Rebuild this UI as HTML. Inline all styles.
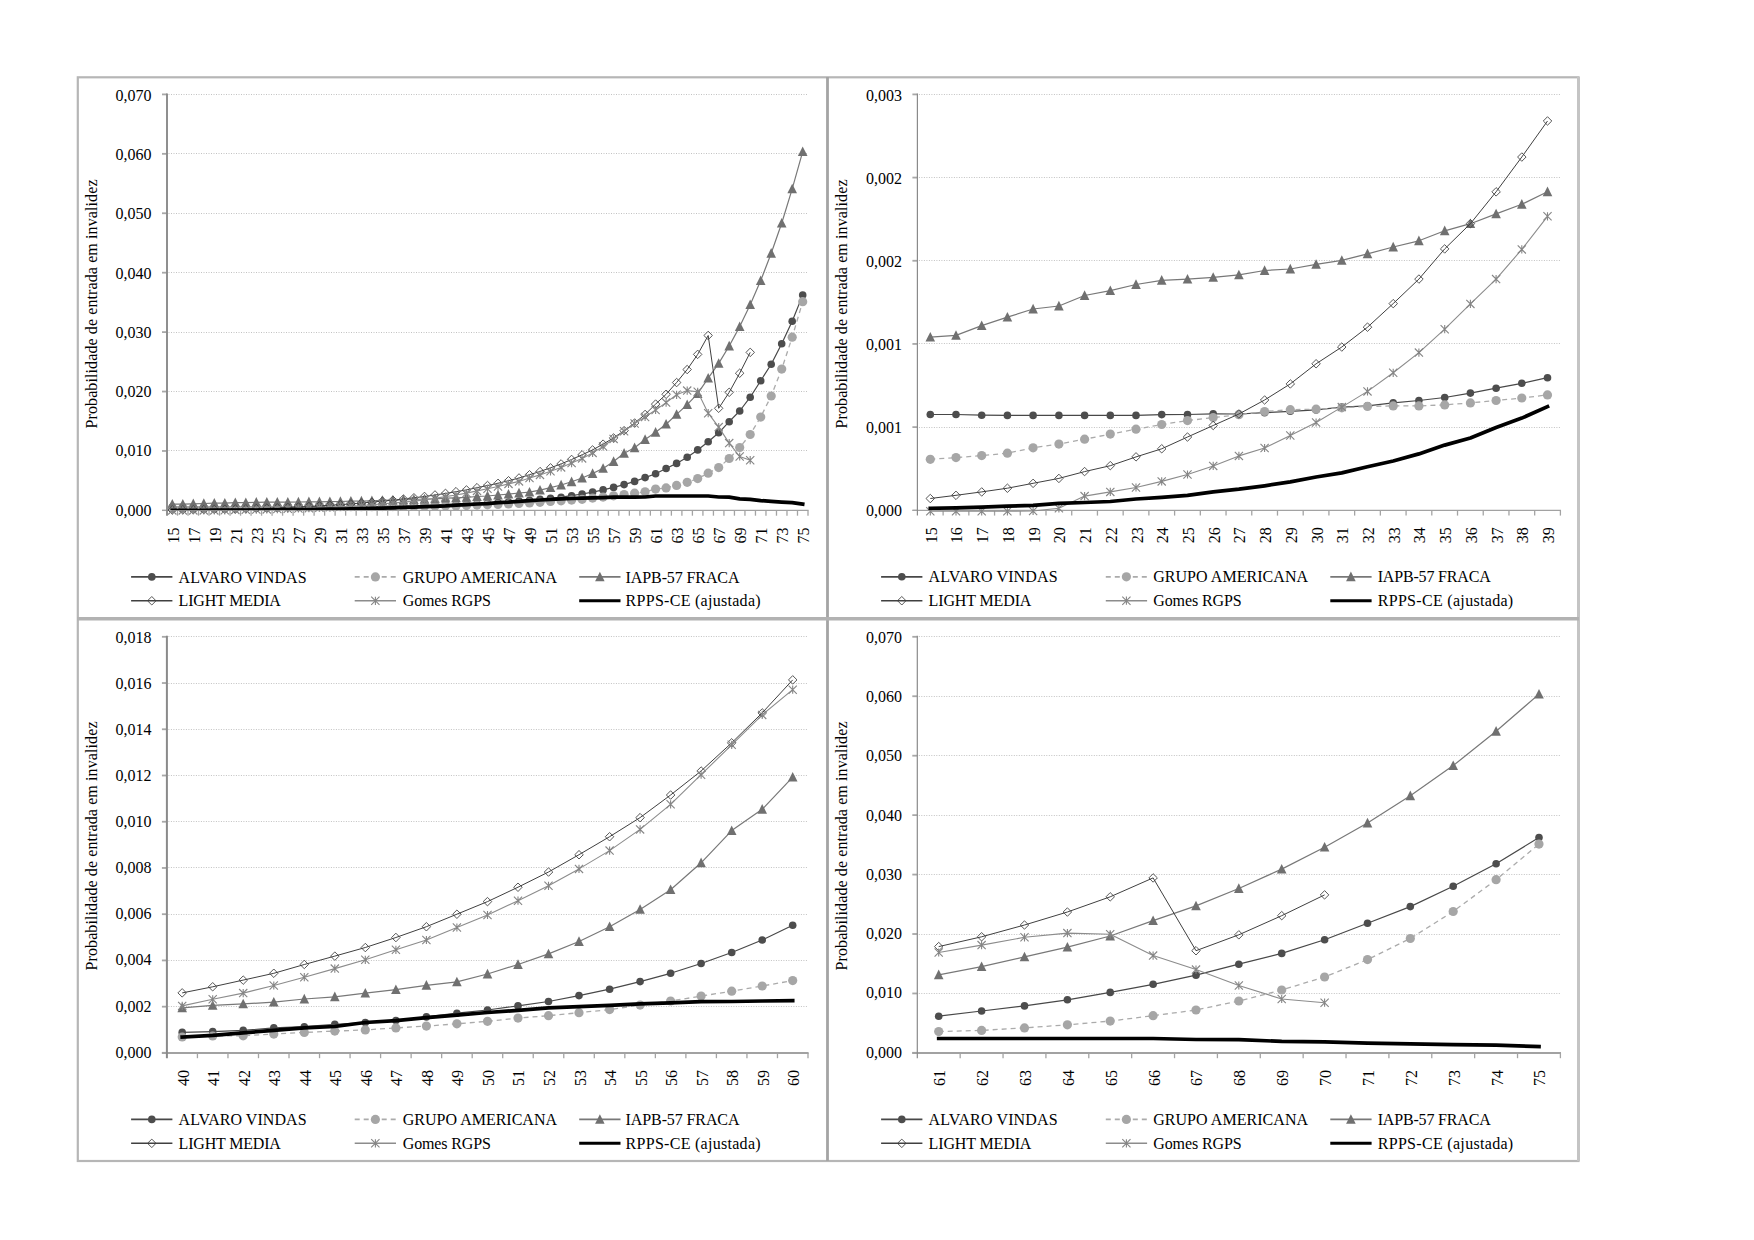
<!DOCTYPE html>
<html><head><meta charset="utf-8"><title>Chart</title>
<style>html,body{margin:0;padding:0;background:#fff}body{width:1754px;height:1240px;position:relative;overflow:hidden}</style></head>
<body>
<svg width="1754" height="1240" viewBox="0 0 1754 1240" style="position:absolute;left:0;top:0">
<rect width="1754" height="1240" fill="#fff"/>
<g fill="none">
<rect x="77.8" y="77.3" width="1500.7" height="1083.7" stroke="#b6b6b6" stroke-width="2.2"/>
<line x1="1578.5" y1="77" x2="1578.5" y2="1161" stroke="#c4c4c4" stroke-width="3"/>
<line x1="827.5" y1="77" x2="827.5" y2="1161" stroke="#a4a4a4" stroke-width="2.8"/>
<line x1="77" y1="618.8" x2="1579" y2="618.8" stroke="#b2b2b2" stroke-width="3.6"/>
</g>
<line x1="168.5" y1="450.5" x2="808.0" y2="450.5" stroke="#c2c2c2" stroke-width="1" stroke-dasharray="1,1.5"/>
<line x1="168.5" y1="391.5" x2="808.0" y2="391.5" stroke="#c2c2c2" stroke-width="1" stroke-dasharray="1,1.5"/>
<line x1="168.5" y1="332.5" x2="808.0" y2="332.5" stroke="#c2c2c2" stroke-width="1" stroke-dasharray="1,1.5"/>
<line x1="168.5" y1="272.5" x2="808.0" y2="272.5" stroke="#c2c2c2" stroke-width="1" stroke-dasharray="1,1.5"/>
<line x1="168.5" y1="213.5" x2="808.0" y2="213.5" stroke="#c2c2c2" stroke-width="1" stroke-dasharray="1,1.5"/>
<line x1="168.5" y1="153.5" x2="808.0" y2="153.5" stroke="#c2c2c2" stroke-width="1" stroke-dasharray="1,1.5"/>
<line x1="168.5" y1="94.5" x2="808.0" y2="94.5" stroke="#c2c2c2" stroke-width="1" stroke-dasharray="1,1.5"/>
<line x1="162.0" y1="510.40" x2="167.0" y2="510.40" stroke="#a8a8a8" stroke-width="1.3"/>
<text x="151.6" y="515.70" text-anchor="end" style="font-family:'Liberation Serif',serif;font-size:16px">0,000</text>
<line x1="162.0" y1="450.97" x2="167.0" y2="450.97" stroke="#a8a8a8" stroke-width="1.8"/>
<text x="151.6" y="456.40" text-anchor="end" style="font-family:'Liberation Serif',serif;font-size:16px">0,010</text>
<line x1="162.0" y1="391.54" x2="167.0" y2="391.54" stroke="#a8a8a8" stroke-width="1.8"/>
<text x="151.6" y="397.10" text-anchor="end" style="font-family:'Liberation Serif',serif;font-size:16px">0,020</text>
<line x1="162.0" y1="332.11" x2="167.0" y2="332.11" stroke="#a8a8a8" stroke-width="1.8"/>
<text x="151.6" y="337.80" text-anchor="end" style="font-family:'Liberation Serif',serif;font-size:16px">0,030</text>
<line x1="162.0" y1="272.69" x2="167.0" y2="272.69" stroke="#a8a8a8" stroke-width="1.8"/>
<text x="151.6" y="278.50" text-anchor="end" style="font-family:'Liberation Serif',serif;font-size:16px">0,040</text>
<line x1="162.0" y1="213.26" x2="167.0" y2="213.26" stroke="#a8a8a8" stroke-width="1.8"/>
<text x="151.6" y="219.20" text-anchor="end" style="font-family:'Liberation Serif',serif;font-size:16px">0,050</text>
<line x1="162.0" y1="153.83" x2="167.0" y2="153.83" stroke="#a8a8a8" stroke-width="1.8"/>
<text x="151.6" y="159.90" text-anchor="end" style="font-family:'Liberation Serif',serif;font-size:16px">0,060</text>
<line x1="162.0" y1="94.40" x2="167.0" y2="94.40" stroke="#a8a8a8" stroke-width="1.8"/>
<text x="151.6" y="100.60" text-anchor="end" style="font-family:'Liberation Serif',serif;font-size:16px">0,070</text>
<line x1="177.51" y1="510.4" x2="177.51" y2="515.6999999999999" stroke="#a4a4a4" stroke-width="1.3"/>
<line x1="188.02" y1="510.4" x2="188.02" y2="515.6999999999999" stroke="#a4a4a4" stroke-width="1.3"/>
<line x1="198.52" y1="510.4" x2="198.52" y2="515.6999999999999" stroke="#a4a4a4" stroke-width="1.3"/>
<line x1="209.03" y1="510.4" x2="209.03" y2="515.6999999999999" stroke="#a4a4a4" stroke-width="1.3"/>
<line x1="219.54" y1="510.4" x2="219.54" y2="515.6999999999999" stroke="#a4a4a4" stroke-width="1.3"/>
<line x1="230.05" y1="510.4" x2="230.05" y2="515.6999999999999" stroke="#a4a4a4" stroke-width="1.3"/>
<line x1="240.56" y1="510.4" x2="240.56" y2="515.6999999999999" stroke="#a4a4a4" stroke-width="1.3"/>
<line x1="251.07" y1="510.4" x2="251.07" y2="515.6999999999999" stroke="#a4a4a4" stroke-width="1.3"/>
<line x1="261.57" y1="510.4" x2="261.57" y2="515.6999999999999" stroke="#a4a4a4" stroke-width="1.3"/>
<line x1="272.08" y1="510.4" x2="272.08" y2="515.6999999999999" stroke="#a4a4a4" stroke-width="1.3"/>
<line x1="282.59" y1="510.4" x2="282.59" y2="515.6999999999999" stroke="#a4a4a4" stroke-width="1.3"/>
<line x1="293.10" y1="510.4" x2="293.10" y2="515.6999999999999" stroke="#a4a4a4" stroke-width="1.3"/>
<line x1="303.61" y1="510.4" x2="303.61" y2="515.6999999999999" stroke="#a4a4a4" stroke-width="1.3"/>
<line x1="314.11" y1="510.4" x2="314.11" y2="515.6999999999999" stroke="#a4a4a4" stroke-width="1.3"/>
<line x1="324.62" y1="510.4" x2="324.62" y2="515.6999999999999" stroke="#a4a4a4" stroke-width="1.3"/>
<line x1="335.13" y1="510.4" x2="335.13" y2="515.6999999999999" stroke="#a4a4a4" stroke-width="1.3"/>
<line x1="345.64" y1="510.4" x2="345.64" y2="515.6999999999999" stroke="#a4a4a4" stroke-width="1.3"/>
<line x1="356.15" y1="510.4" x2="356.15" y2="515.6999999999999" stroke="#a4a4a4" stroke-width="1.3"/>
<line x1="366.66" y1="510.4" x2="366.66" y2="515.6999999999999" stroke="#a4a4a4" stroke-width="1.3"/>
<line x1="377.16" y1="510.4" x2="377.16" y2="515.6999999999999" stroke="#a4a4a4" stroke-width="1.3"/>
<line x1="387.67" y1="510.4" x2="387.67" y2="515.6999999999999" stroke="#a4a4a4" stroke-width="1.3"/>
<line x1="398.18" y1="510.4" x2="398.18" y2="515.6999999999999" stroke="#a4a4a4" stroke-width="1.3"/>
<line x1="408.69" y1="510.4" x2="408.69" y2="515.6999999999999" stroke="#a4a4a4" stroke-width="1.3"/>
<line x1="419.20" y1="510.4" x2="419.20" y2="515.6999999999999" stroke="#a4a4a4" stroke-width="1.3"/>
<line x1="429.70" y1="510.4" x2="429.70" y2="515.6999999999999" stroke="#a4a4a4" stroke-width="1.3"/>
<line x1="440.21" y1="510.4" x2="440.21" y2="515.6999999999999" stroke="#a4a4a4" stroke-width="1.3"/>
<line x1="450.72" y1="510.4" x2="450.72" y2="515.6999999999999" stroke="#a4a4a4" stroke-width="1.3"/>
<line x1="461.23" y1="510.4" x2="461.23" y2="515.6999999999999" stroke="#a4a4a4" stroke-width="1.3"/>
<line x1="471.74" y1="510.4" x2="471.74" y2="515.6999999999999" stroke="#a4a4a4" stroke-width="1.3"/>
<line x1="482.25" y1="510.4" x2="482.25" y2="515.6999999999999" stroke="#a4a4a4" stroke-width="1.3"/>
<line x1="492.75" y1="510.4" x2="492.75" y2="515.6999999999999" stroke="#a4a4a4" stroke-width="1.3"/>
<line x1="503.26" y1="510.4" x2="503.26" y2="515.6999999999999" stroke="#a4a4a4" stroke-width="1.3"/>
<line x1="513.77" y1="510.4" x2="513.77" y2="515.6999999999999" stroke="#a4a4a4" stroke-width="1.3"/>
<line x1="524.28" y1="510.4" x2="524.28" y2="515.6999999999999" stroke="#a4a4a4" stroke-width="1.3"/>
<line x1="534.79" y1="510.4" x2="534.79" y2="515.6999999999999" stroke="#a4a4a4" stroke-width="1.3"/>
<line x1="545.30" y1="510.4" x2="545.30" y2="515.6999999999999" stroke="#a4a4a4" stroke-width="1.3"/>
<line x1="555.80" y1="510.4" x2="555.80" y2="515.6999999999999" stroke="#a4a4a4" stroke-width="1.3"/>
<line x1="566.31" y1="510.4" x2="566.31" y2="515.6999999999999" stroke="#a4a4a4" stroke-width="1.3"/>
<line x1="576.82" y1="510.4" x2="576.82" y2="515.6999999999999" stroke="#a4a4a4" stroke-width="1.3"/>
<line x1="587.33" y1="510.4" x2="587.33" y2="515.6999999999999" stroke="#a4a4a4" stroke-width="1.3"/>
<line x1="597.84" y1="510.4" x2="597.84" y2="515.6999999999999" stroke="#a4a4a4" stroke-width="1.3"/>
<line x1="608.34" y1="510.4" x2="608.34" y2="515.6999999999999" stroke="#a4a4a4" stroke-width="1.3"/>
<line x1="618.85" y1="510.4" x2="618.85" y2="515.6999999999999" stroke="#a4a4a4" stroke-width="1.3"/>
<line x1="629.36" y1="510.4" x2="629.36" y2="515.6999999999999" stroke="#a4a4a4" stroke-width="1.3"/>
<line x1="639.87" y1="510.4" x2="639.87" y2="515.6999999999999" stroke="#a4a4a4" stroke-width="1.3"/>
<line x1="650.38" y1="510.4" x2="650.38" y2="515.6999999999999" stroke="#a4a4a4" stroke-width="1.3"/>
<line x1="660.89" y1="510.4" x2="660.89" y2="515.6999999999999" stroke="#a4a4a4" stroke-width="1.3"/>
<line x1="671.39" y1="510.4" x2="671.39" y2="515.6999999999999" stroke="#a4a4a4" stroke-width="1.3"/>
<line x1="681.90" y1="510.4" x2="681.90" y2="515.6999999999999" stroke="#a4a4a4" stroke-width="1.3"/>
<line x1="692.41" y1="510.4" x2="692.41" y2="515.6999999999999" stroke="#a4a4a4" stroke-width="1.3"/>
<line x1="702.92" y1="510.4" x2="702.92" y2="515.6999999999999" stroke="#a4a4a4" stroke-width="1.3"/>
<line x1="713.43" y1="510.4" x2="713.43" y2="515.6999999999999" stroke="#a4a4a4" stroke-width="1.3"/>
<line x1="723.93" y1="510.4" x2="723.93" y2="515.6999999999999" stroke="#a4a4a4" stroke-width="1.3"/>
<line x1="734.44" y1="510.4" x2="734.44" y2="515.6999999999999" stroke="#a4a4a4" stroke-width="1.3"/>
<line x1="744.95" y1="510.4" x2="744.95" y2="515.6999999999999" stroke="#a4a4a4" stroke-width="1.3"/>
<line x1="755.46" y1="510.4" x2="755.46" y2="515.6999999999999" stroke="#a4a4a4" stroke-width="1.3"/>
<line x1="765.97" y1="510.4" x2="765.97" y2="515.6999999999999" stroke="#a4a4a4" stroke-width="1.3"/>
<line x1="776.48" y1="510.4" x2="776.48" y2="515.6999999999999" stroke="#a4a4a4" stroke-width="1.3"/>
<line x1="786.98" y1="510.4" x2="786.98" y2="515.6999999999999" stroke="#a4a4a4" stroke-width="1.3"/>
<line x1="797.49" y1="510.4" x2="797.49" y2="515.6999999999999" stroke="#a4a4a4" stroke-width="1.3"/>
<line x1="808.00" y1="510.4" x2="808.00" y2="515.6999999999999" stroke="#a4a4a4" stroke-width="1.3"/>
<line x1="162.0" y1="510.4" x2="808.6" y2="510.4" stroke="#a2a2a2" stroke-width="1.3"/>
<line x1="167.0" y1="93.4" x2="167.0" y2="515.6999999999999" stroke="#8a8a8a" stroke-width="1.9"/>
<text transform="translate(178.75,527.4) rotate(-90)" text-anchor="end" style="font-family:'Liberation Serif',serif;font-size:16px">15</text>
<text transform="translate(199.77,527.4) rotate(-90)" text-anchor="end" style="font-family:'Liberation Serif',serif;font-size:16px">17</text>
<text transform="translate(220.79,527.4) rotate(-90)" text-anchor="end" style="font-family:'Liberation Serif',serif;font-size:16px">19</text>
<text transform="translate(241.80,527.4) rotate(-90)" text-anchor="end" style="font-family:'Liberation Serif',serif;font-size:16px">21</text>
<text transform="translate(262.82,527.4) rotate(-90)" text-anchor="end" style="font-family:'Liberation Serif',serif;font-size:16px">23</text>
<text transform="translate(283.84,527.4) rotate(-90)" text-anchor="end" style="font-family:'Liberation Serif',serif;font-size:16px">25</text>
<text transform="translate(304.85,527.4) rotate(-90)" text-anchor="end" style="font-family:'Liberation Serif',serif;font-size:16px">27</text>
<text transform="translate(325.87,527.4) rotate(-90)" text-anchor="end" style="font-family:'Liberation Serif',serif;font-size:16px">29</text>
<text transform="translate(346.89,527.4) rotate(-90)" text-anchor="end" style="font-family:'Liberation Serif',serif;font-size:16px">31</text>
<text transform="translate(367.90,527.4) rotate(-90)" text-anchor="end" style="font-family:'Liberation Serif',serif;font-size:16px">33</text>
<text transform="translate(388.92,527.4) rotate(-90)" text-anchor="end" style="font-family:'Liberation Serif',serif;font-size:16px">35</text>
<text transform="translate(409.93,527.4) rotate(-90)" text-anchor="end" style="font-family:'Liberation Serif',serif;font-size:16px">37</text>
<text transform="translate(430.95,527.4) rotate(-90)" text-anchor="end" style="font-family:'Liberation Serif',serif;font-size:16px">39</text>
<text transform="translate(451.97,527.4) rotate(-90)" text-anchor="end" style="font-family:'Liberation Serif',serif;font-size:16px">41</text>
<text transform="translate(472.98,527.4) rotate(-90)" text-anchor="end" style="font-family:'Liberation Serif',serif;font-size:16px">43</text>
<text transform="translate(494.00,527.4) rotate(-90)" text-anchor="end" style="font-family:'Liberation Serif',serif;font-size:16px">45</text>
<text transform="translate(515.02,527.4) rotate(-90)" text-anchor="end" style="font-family:'Liberation Serif',serif;font-size:16px">47</text>
<text transform="translate(536.03,527.4) rotate(-90)" text-anchor="end" style="font-family:'Liberation Serif',serif;font-size:16px">49</text>
<text transform="translate(557.05,527.4) rotate(-90)" text-anchor="end" style="font-family:'Liberation Serif',serif;font-size:16px">51</text>
<text transform="translate(578.07,527.4) rotate(-90)" text-anchor="end" style="font-family:'Liberation Serif',serif;font-size:16px">53</text>
<text transform="translate(599.08,527.4) rotate(-90)" text-anchor="end" style="font-family:'Liberation Serif',serif;font-size:16px">55</text>
<text transform="translate(620.10,527.4) rotate(-90)" text-anchor="end" style="font-family:'Liberation Serif',serif;font-size:16px">57</text>
<text transform="translate(641.11,527.4) rotate(-90)" text-anchor="end" style="font-family:'Liberation Serif',serif;font-size:16px">59</text>
<text transform="translate(662.13,527.4) rotate(-90)" text-anchor="end" style="font-family:'Liberation Serif',serif;font-size:16px">61</text>
<text transform="translate(683.15,527.4) rotate(-90)" text-anchor="end" style="font-family:'Liberation Serif',serif;font-size:16px">63</text>
<text transform="translate(704.16,527.4) rotate(-90)" text-anchor="end" style="font-family:'Liberation Serif',serif;font-size:16px">65</text>
<text transform="translate(725.18,527.4) rotate(-90)" text-anchor="end" style="font-family:'Liberation Serif',serif;font-size:16px">67</text>
<text transform="translate(746.20,527.4) rotate(-90)" text-anchor="end" style="font-family:'Liberation Serif',serif;font-size:16px">69</text>
<text transform="translate(767.21,527.4) rotate(-90)" text-anchor="end" style="font-family:'Liberation Serif',serif;font-size:16px">71</text>
<text transform="translate(788.23,527.4) rotate(-90)" text-anchor="end" style="font-family:'Liberation Serif',serif;font-size:16px">73</text>
<text transform="translate(809.25,527.4) rotate(-90)" text-anchor="end" style="font-family:'Liberation Serif',serif;font-size:16px">75</text>
<text transform="translate(97,304) rotate(-90)" text-anchor="middle" style="font-family:'Liberation Serif',serif;font-size:16px" textLength="249" lengthAdjust="spacing">Probabilidade de entrada em invalidez</text>
<clipPath id="c167_510"><rect x="167.0" y="84.4" width="641.0" height="425.60"/></clipPath>
<path d="M172.3 507.0L182.8 507.0L193.3 507.0L203.8 507.0L214.3 507.0L224.8 507.0L235.3 507.0L245.8 507.0L256.3 507.0L266.8 507.0L277.3 507.0L287.8 507.0L298.4 507.0L308.9 506.9L319.4 506.9L329.9 506.8L340.4 506.7L350.9 506.7L361.4 506.6L371.9 506.5L382.4 506.4L392.9 506.2L403.4 506.0L413.9 505.9L424.5 505.7L435.0 505.1L445.5 504.9L456.0 504.6L466.5 504.0L477.0 503.7L487.5 503.0L498.0 502.6L508.5 502.1L519.0 501.1L529.5 500.2L540.0 499.4L550.5 498.3L561.1 497.2L571.6 495.7L582.1 494.0L592.6 492.1L603.1 489.9L613.6 487.4L624.1 484.6L634.6 481.4L645.1 477.6L655.6 473.7L666.1 468.5L676.6 463.4L687.2 457.3L697.7 449.9L708.2 441.8L718.7 432.8L729.2 421.7L739.7 411.0L750.2 397.2L760.7 380.8L771.2 364.2L781.7 343.8L792.2 321.3L802.7 295.1" fill="none" stroke="#484848" stroke-width="1.2" stroke-linejoin="round"/>
<circle cx="172.3" cy="507.0" r="3.80" fill="#4d4d4d"/>
<circle cx="182.8" cy="507.0" r="3.80" fill="#4d4d4d"/>
<circle cx="193.3" cy="507.0" r="3.80" fill="#4d4d4d"/>
<circle cx="203.8" cy="507.0" r="3.80" fill="#4d4d4d"/>
<circle cx="214.3" cy="507.0" r="3.80" fill="#4d4d4d"/>
<circle cx="224.8" cy="507.0" r="3.80" fill="#4d4d4d"/>
<circle cx="235.3" cy="507.0" r="3.80" fill="#4d4d4d"/>
<circle cx="245.8" cy="507.0" r="3.80" fill="#4d4d4d"/>
<circle cx="256.3" cy="507.0" r="3.80" fill="#4d4d4d"/>
<circle cx="266.8" cy="507.0" r="3.80" fill="#4d4d4d"/>
<circle cx="277.3" cy="507.0" r="3.80" fill="#4d4d4d"/>
<circle cx="287.8" cy="507.0" r="3.80" fill="#4d4d4d"/>
<circle cx="298.4" cy="507.0" r="3.80" fill="#4d4d4d"/>
<circle cx="308.9" cy="506.9" r="3.80" fill="#4d4d4d"/>
<circle cx="319.4" cy="506.9" r="3.80" fill="#4d4d4d"/>
<circle cx="329.9" cy="506.8" r="3.80" fill="#4d4d4d"/>
<circle cx="340.4" cy="506.7" r="3.80" fill="#4d4d4d"/>
<circle cx="350.9" cy="506.7" r="3.80" fill="#4d4d4d"/>
<circle cx="361.4" cy="506.6" r="3.80" fill="#4d4d4d"/>
<circle cx="371.9" cy="506.5" r="3.80" fill="#4d4d4d"/>
<circle cx="382.4" cy="506.4" r="3.80" fill="#4d4d4d"/>
<circle cx="392.9" cy="506.2" r="3.80" fill="#4d4d4d"/>
<circle cx="403.4" cy="506.0" r="3.80" fill="#4d4d4d"/>
<circle cx="413.9" cy="505.9" r="3.80" fill="#4d4d4d"/>
<circle cx="424.5" cy="505.7" r="3.80" fill="#4d4d4d"/>
<circle cx="435.0" cy="505.1" r="3.80" fill="#4d4d4d"/>
<circle cx="445.5" cy="504.9" r="3.80" fill="#4d4d4d"/>
<circle cx="456.0" cy="504.6" r="3.80" fill="#4d4d4d"/>
<circle cx="466.5" cy="504.0" r="3.80" fill="#4d4d4d"/>
<circle cx="477.0" cy="503.7" r="3.80" fill="#4d4d4d"/>
<circle cx="487.5" cy="503.0" r="3.80" fill="#4d4d4d"/>
<circle cx="498.0" cy="502.6" r="3.80" fill="#4d4d4d"/>
<circle cx="508.5" cy="502.1" r="3.80" fill="#4d4d4d"/>
<circle cx="519.0" cy="501.1" r="3.80" fill="#4d4d4d"/>
<circle cx="529.5" cy="500.2" r="3.80" fill="#4d4d4d"/>
<circle cx="540.0" cy="499.4" r="3.80" fill="#4d4d4d"/>
<circle cx="550.5" cy="498.3" r="3.80" fill="#4d4d4d"/>
<circle cx="561.1" cy="497.2" r="3.80" fill="#4d4d4d"/>
<circle cx="571.6" cy="495.7" r="3.80" fill="#4d4d4d"/>
<circle cx="582.1" cy="494.0" r="3.80" fill="#4d4d4d"/>
<circle cx="592.6" cy="492.1" r="3.80" fill="#4d4d4d"/>
<circle cx="603.1" cy="489.9" r="3.80" fill="#4d4d4d"/>
<circle cx="613.6" cy="487.4" r="3.80" fill="#4d4d4d"/>
<circle cx="624.1" cy="484.6" r="3.80" fill="#4d4d4d"/>
<circle cx="634.6" cy="481.4" r="3.80" fill="#4d4d4d"/>
<circle cx="645.1" cy="477.6" r="3.80" fill="#4d4d4d"/>
<circle cx="655.6" cy="473.7" r="3.80" fill="#4d4d4d"/>
<circle cx="666.1" cy="468.5" r="3.80" fill="#4d4d4d"/>
<circle cx="676.6" cy="463.4" r="3.80" fill="#4d4d4d"/>
<circle cx="687.2" cy="457.3" r="3.80" fill="#4d4d4d"/>
<circle cx="697.7" cy="449.9" r="3.80" fill="#4d4d4d"/>
<circle cx="708.2" cy="441.8" r="3.80" fill="#4d4d4d"/>
<circle cx="718.7" cy="432.8" r="3.80" fill="#4d4d4d"/>
<circle cx="729.2" cy="421.7" r="3.80" fill="#4d4d4d"/>
<circle cx="739.7" cy="411.0" r="3.80" fill="#4d4d4d"/>
<circle cx="750.2" cy="397.2" r="3.80" fill="#4d4d4d"/>
<circle cx="760.7" cy="380.8" r="3.80" fill="#4d4d4d"/>
<circle cx="771.2" cy="364.2" r="3.80" fill="#4d4d4d"/>
<circle cx="781.7" cy="343.8" r="3.80" fill="#4d4d4d"/>
<circle cx="792.2" cy="321.3" r="3.80" fill="#4d4d4d"/>
<circle cx="802.7" cy="295.1" r="3.80" fill="#4d4d4d"/>
<path d="M172.3 508.6L182.8 508.5L193.3 508.4L203.8 508.4L214.3 508.2L224.8 508.0L235.3 507.9L245.8 507.7L256.3 507.5L266.8 507.3L277.3 507.2L287.8 507.1L298.4 507.0L308.9 506.9L319.4 506.8L329.9 506.8L340.4 506.7L350.9 506.7L361.4 506.7L371.9 506.7L382.4 506.6L392.9 506.6L403.4 506.5L413.9 506.4L424.5 506.3L435.0 506.3L445.5 506.1L456.0 506.0L466.5 505.6L477.0 505.1L487.5 504.8L498.0 504.5L508.5 504.0L519.0 503.5L529.5 502.9L540.0 502.3L550.5 501.5L561.1 500.8L571.6 500.1L582.1 499.3L592.6 498.1L603.1 497.1L613.6 495.8L624.1 494.5L634.6 493.2L645.1 491.8L655.6 489.1L666.1 487.9L676.6 485.4L687.2 482.3L697.7 478.6L708.2 473.2L718.7 467.6L729.2 458.5L739.7 447.5L750.2 434.5L760.7 417.1L771.2 396.0L781.7 369.1L792.2 337.2L802.7 301.7" fill="none" stroke="#ababab" stroke-width="1.3" stroke-dasharray="5,4" stroke-linejoin="round"/>
<circle cx="172.3" cy="508.6" r="4.60" fill="#a6a6a6"/>
<circle cx="182.8" cy="508.5" r="4.60" fill="#a6a6a6"/>
<circle cx="193.3" cy="508.4" r="4.60" fill="#a6a6a6"/>
<circle cx="203.8" cy="508.4" r="4.60" fill="#a6a6a6"/>
<circle cx="214.3" cy="508.2" r="4.60" fill="#a6a6a6"/>
<circle cx="224.8" cy="508.0" r="4.60" fill="#a6a6a6"/>
<circle cx="235.3" cy="507.9" r="4.60" fill="#a6a6a6"/>
<circle cx="245.8" cy="507.7" r="4.60" fill="#a6a6a6"/>
<circle cx="256.3" cy="507.5" r="4.60" fill="#a6a6a6"/>
<circle cx="266.8" cy="507.3" r="4.60" fill="#a6a6a6"/>
<circle cx="277.3" cy="507.2" r="4.60" fill="#a6a6a6"/>
<circle cx="287.8" cy="507.1" r="4.60" fill="#a6a6a6"/>
<circle cx="298.4" cy="507.0" r="4.60" fill="#a6a6a6"/>
<circle cx="308.9" cy="506.9" r="4.60" fill="#a6a6a6"/>
<circle cx="319.4" cy="506.8" r="4.60" fill="#a6a6a6"/>
<circle cx="329.9" cy="506.8" r="4.60" fill="#a6a6a6"/>
<circle cx="340.4" cy="506.7" r="4.60" fill="#a6a6a6"/>
<circle cx="350.9" cy="506.7" r="4.60" fill="#a6a6a6"/>
<circle cx="361.4" cy="506.7" r="4.60" fill="#a6a6a6"/>
<circle cx="371.9" cy="506.7" r="4.60" fill="#a6a6a6"/>
<circle cx="382.4" cy="506.6" r="4.60" fill="#a6a6a6"/>
<circle cx="392.9" cy="506.6" r="4.60" fill="#a6a6a6"/>
<circle cx="403.4" cy="506.5" r="4.60" fill="#a6a6a6"/>
<circle cx="413.9" cy="506.4" r="4.60" fill="#a6a6a6"/>
<circle cx="424.5" cy="506.3" r="4.60" fill="#a6a6a6"/>
<circle cx="435.0" cy="506.3" r="4.60" fill="#a6a6a6"/>
<circle cx="445.5" cy="506.1" r="4.60" fill="#a6a6a6"/>
<circle cx="456.0" cy="506.0" r="4.60" fill="#a6a6a6"/>
<circle cx="466.5" cy="505.6" r="4.60" fill="#a6a6a6"/>
<circle cx="477.0" cy="505.1" r="4.60" fill="#a6a6a6"/>
<circle cx="487.5" cy="504.8" r="4.60" fill="#a6a6a6"/>
<circle cx="498.0" cy="504.5" r="4.60" fill="#a6a6a6"/>
<circle cx="508.5" cy="504.0" r="4.60" fill="#a6a6a6"/>
<circle cx="519.0" cy="503.5" r="4.60" fill="#a6a6a6"/>
<circle cx="529.5" cy="502.9" r="4.60" fill="#a6a6a6"/>
<circle cx="540.0" cy="502.3" r="4.60" fill="#a6a6a6"/>
<circle cx="550.5" cy="501.5" r="4.60" fill="#a6a6a6"/>
<circle cx="561.1" cy="500.8" r="4.60" fill="#a6a6a6"/>
<circle cx="571.6" cy="500.1" r="4.60" fill="#a6a6a6"/>
<circle cx="582.1" cy="499.3" r="4.60" fill="#a6a6a6"/>
<circle cx="592.6" cy="498.1" r="4.60" fill="#a6a6a6"/>
<circle cx="603.1" cy="497.1" r="4.60" fill="#a6a6a6"/>
<circle cx="613.6" cy="495.8" r="4.60" fill="#a6a6a6"/>
<circle cx="624.1" cy="494.5" r="4.60" fill="#a6a6a6"/>
<circle cx="634.6" cy="493.2" r="4.60" fill="#a6a6a6"/>
<circle cx="645.1" cy="491.8" r="4.60" fill="#a6a6a6"/>
<circle cx="655.6" cy="489.1" r="4.60" fill="#a6a6a6"/>
<circle cx="666.1" cy="487.9" r="4.60" fill="#a6a6a6"/>
<circle cx="676.6" cy="485.4" r="4.60" fill="#a6a6a6"/>
<circle cx="687.2" cy="482.3" r="4.60" fill="#a6a6a6"/>
<circle cx="697.7" cy="478.6" r="4.60" fill="#a6a6a6"/>
<circle cx="708.2" cy="473.2" r="4.60" fill="#a6a6a6"/>
<circle cx="718.7" cy="467.6" r="4.60" fill="#a6a6a6"/>
<circle cx="729.2" cy="458.5" r="4.60" fill="#a6a6a6"/>
<circle cx="739.7" cy="447.5" r="4.60" fill="#a6a6a6"/>
<circle cx="750.2" cy="434.5" r="4.60" fill="#a6a6a6"/>
<circle cx="760.7" cy="417.1" r="4.60" fill="#a6a6a6"/>
<circle cx="771.2" cy="396.0" r="4.60" fill="#a6a6a6"/>
<circle cx="781.7" cy="369.1" r="4.60" fill="#a6a6a6"/>
<circle cx="792.2" cy="337.2" r="4.60" fill="#a6a6a6"/>
<circle cx="802.7" cy="301.7" r="4.60" fill="#a6a6a6"/>
<path d="M172.3 504.2L182.8 504.2L193.3 503.8L203.8 503.5L214.3 503.2L224.8 503.1L235.3 502.7L245.8 502.6L256.3 502.3L266.8 502.2L277.3 502.1L287.8 502.1L298.4 502.0L308.9 501.8L319.4 501.8L329.9 501.6L340.4 501.5L350.9 501.2L361.4 501.0L371.9 500.8L382.4 500.4L392.9 500.2L403.4 499.8L413.9 499.5L424.5 499.0L435.0 498.8L445.5 498.2L456.0 497.8L466.5 497.4L477.0 496.5L487.5 496.0L498.0 495.0L508.5 494.2L519.0 493.0L529.5 492.1L540.0 490.1L550.5 487.7L561.1 485.0L571.6 481.8L582.1 478.0L592.6 473.5L603.1 468.4L613.6 461.5L624.1 453.3L634.6 447.8L645.1 439.5L655.6 432.3L666.1 424.2L676.6 414.4L687.2 404.6L697.7 393.6L708.2 378.1L718.7 363.4L729.2 346.0L739.7 326.6L750.2 304.7L760.7 280.6L771.2 253.3L781.7 223.2L792.2 188.9L802.7 151.7" fill="none" stroke="#787878" stroke-width="1.2" stroke-linejoin="round"/>
<path d="M172.3 499.0L177.1 508.6H167.5Z" fill="#707070"/>
<path d="M182.8 499.0L187.6 508.6H178.0Z" fill="#707070"/>
<path d="M193.3 498.6L198.1 508.2H188.5Z" fill="#707070"/>
<path d="M203.8 498.3L208.6 507.9H199.0Z" fill="#707070"/>
<path d="M214.3 498.0L219.1 507.6H209.5Z" fill="#707070"/>
<path d="M224.8 497.9L229.6 507.5H220.0Z" fill="#707070"/>
<path d="M235.3 497.5L240.1 507.1H230.5Z" fill="#707070"/>
<path d="M245.8 497.4L250.6 507.0H241.0Z" fill="#707070"/>
<path d="M256.3 497.1L261.1 506.7H251.5Z" fill="#707070"/>
<path d="M266.8 497.0L271.6 506.6H262.0Z" fill="#707070"/>
<path d="M277.3 496.9L282.1 506.5H272.5Z" fill="#707070"/>
<path d="M287.8 496.9L292.6 506.5H283.0Z" fill="#707070"/>
<path d="M298.4 496.8L303.2 506.4H293.6Z" fill="#707070"/>
<path d="M308.9 496.6L313.7 506.2H304.1Z" fill="#707070"/>
<path d="M319.4 496.6L324.2 506.2H314.6Z" fill="#707070"/>
<path d="M329.9 496.4L334.7 506.0H325.1Z" fill="#707070"/>
<path d="M340.4 496.3L345.2 505.9H335.6Z" fill="#707070"/>
<path d="M350.9 496.0L355.7 505.6H346.1Z" fill="#707070"/>
<path d="M361.4 495.8L366.2 505.4H356.6Z" fill="#707070"/>
<path d="M371.9 495.6L376.7 505.2H367.1Z" fill="#707070"/>
<path d="M382.4 495.2L387.2 504.8H377.6Z" fill="#707070"/>
<path d="M392.9 495.0L397.7 504.6H388.1Z" fill="#707070"/>
<path d="M403.4 494.6L408.2 504.2H398.6Z" fill="#707070"/>
<path d="M413.9 494.3L418.7 503.9H409.1Z" fill="#707070"/>
<path d="M424.5 493.8L429.3 503.4H419.7Z" fill="#707070"/>
<path d="M435.0 493.6L439.8 503.2H430.2Z" fill="#707070"/>
<path d="M445.5 493.0L450.3 502.6H440.7Z" fill="#707070"/>
<path d="M456.0 492.6L460.8 502.2H451.2Z" fill="#707070"/>
<path d="M466.5 492.2L471.3 501.8H461.7Z" fill="#707070"/>
<path d="M477.0 491.3L481.8 500.9H472.2Z" fill="#707070"/>
<path d="M487.5 490.8L492.3 500.4H482.7Z" fill="#707070"/>
<path d="M498.0 489.8L502.8 499.4H493.2Z" fill="#707070"/>
<path d="M508.5 489.0L513.3 498.6H503.7Z" fill="#707070"/>
<path d="M519.0 487.8L523.8 497.4H514.2Z" fill="#707070"/>
<path d="M529.5 486.9L534.3 496.5H524.7Z" fill="#707070"/>
<path d="M540.0 484.9L544.8 494.5H535.2Z" fill="#707070"/>
<path d="M550.5 482.5L555.3 492.1H545.7Z" fill="#707070"/>
<path d="M561.1 479.8L565.9 489.4H556.3Z" fill="#707070"/>
<path d="M571.6 476.6L576.4 486.2H566.8Z" fill="#707070"/>
<path d="M582.1 472.8L586.9 482.4H577.3Z" fill="#707070"/>
<path d="M592.6 468.3L597.4 477.9H587.8Z" fill="#707070"/>
<path d="M603.1 463.2L607.9 472.8H598.3Z" fill="#707070"/>
<path d="M613.6 456.3L618.4 465.9H608.8Z" fill="#707070"/>
<path d="M624.1 448.1L628.9 457.7H619.3Z" fill="#707070"/>
<path d="M634.6 442.6L639.4 452.2H629.8Z" fill="#707070"/>
<path d="M645.1 434.3L649.9 443.9H640.3Z" fill="#707070"/>
<path d="M655.6 427.1L660.4 436.7H650.8Z" fill="#707070"/>
<path d="M666.1 419.0L670.9 428.6H661.3Z" fill="#707070"/>
<path d="M676.6 409.2L681.4 418.8H671.8Z" fill="#707070"/>
<path d="M687.2 399.4L692.0 409.0H682.4Z" fill="#707070"/>
<path d="M697.7 388.4L702.5 398.0H692.9Z" fill="#707070"/>
<path d="M708.2 372.9L713.0 382.5H703.4Z" fill="#707070"/>
<path d="M718.7 358.2L723.5 367.8H713.9Z" fill="#707070"/>
<path d="M729.2 340.8L734.0 350.4H724.4Z" fill="#707070"/>
<path d="M739.7 321.4L744.5 331.0H734.9Z" fill="#707070"/>
<path d="M750.2 299.5L755.0 309.1H745.4Z" fill="#707070"/>
<path d="M760.7 275.4L765.5 285.0H755.9Z" fill="#707070"/>
<path d="M771.2 248.1L776.0 257.7H766.4Z" fill="#707070"/>
<path d="M781.7 218.0L786.5 227.6H776.9Z" fill="#707070"/>
<path d="M792.2 183.7L797.0 193.3H787.4Z" fill="#707070"/>
<path d="M802.7 146.5L807.5 156.1H797.9Z" fill="#707070"/>
<path d="M172.3 505.7L176.5 510.0L172.3 514.2L168.0 510.0Z" fill="none" stroke="#454545" stroke-width="0.9"/>
<path d="M182.8 505.6L187.0 509.9L182.8 514.1L178.5 509.9Z" fill="none" stroke="#454545" stroke-width="0.9"/>
<path d="M193.3 505.5L197.5 509.7L193.3 514.0L189.0 509.7Z" fill="none" stroke="#454545" stroke-width="0.9"/>
<path d="M203.8 505.4L208.0 509.6L203.8 513.9L199.5 509.6Z" fill="none" stroke="#454545" stroke-width="0.9"/>
<path d="M214.3 505.2L218.5 509.4L214.3 513.7L210.0 509.4Z" fill="none" stroke="#454545" stroke-width="0.9"/>
<path d="M224.8 505.0L229.0 509.3L224.8 513.5L220.5 509.3Z" fill="none" stroke="#454545" stroke-width="0.9"/>
<path d="M235.3 504.8L239.6 509.0L235.3 513.3L231.1 509.0Z" fill="none" stroke="#454545" stroke-width="0.9"/>
<path d="M245.8 504.6L250.1 508.8L245.8 513.1L241.6 508.8Z" fill="none" stroke="#454545" stroke-width="0.9"/>
<path d="M256.3 504.2L260.6 508.5L256.3 512.7L252.1 508.5Z" fill="none" stroke="#454545" stroke-width="0.9"/>
<path d="M266.8 504.0L271.1 508.2L266.8 512.5L262.6 508.2Z" fill="none" stroke="#454545" stroke-width="0.9"/>
<path d="M277.3 503.5L281.6 507.8L277.3 512.0L273.1 507.8Z" fill="none" stroke="#454545" stroke-width="0.9"/>
<path d="M287.8 503.1L292.1 507.4L287.8 511.6L283.6 507.4Z" fill="none" stroke="#454545" stroke-width="0.9"/>
<path d="M298.4 502.7L302.6 507.0L298.4 511.2L294.1 507.0Z" fill="none" stroke="#454545" stroke-width="0.9"/>
<path d="M308.9 502.2L313.1 506.5L308.9 510.7L304.6 506.5Z" fill="none" stroke="#454545" stroke-width="0.9"/>
<path d="M319.4 501.6L323.6 505.9L319.4 510.1L315.1 505.9Z" fill="none" stroke="#454545" stroke-width="0.9"/>
<path d="M329.9 500.9L334.1 505.2L329.9 509.4L325.6 505.2Z" fill="none" stroke="#454545" stroke-width="0.9"/>
<path d="M340.4 500.3L344.6 504.6L340.4 508.8L336.1 504.6Z" fill="none" stroke="#454545" stroke-width="0.9"/>
<path d="M350.9 499.6L355.1 503.9L350.9 508.1L346.6 503.9Z" fill="none" stroke="#454545" stroke-width="0.9"/>
<path d="M361.4 498.8L365.7 503.0L361.4 507.3L357.2 503.0Z" fill="none" stroke="#454545" stroke-width="0.9"/>
<path d="M371.9 497.9L376.2 502.1L371.9 506.4L367.7 502.1Z" fill="none" stroke="#454545" stroke-width="0.9"/>
<path d="M382.4 496.8L386.7 501.1L382.4 505.3L378.2 501.1Z" fill="none" stroke="#454545" stroke-width="0.9"/>
<path d="M392.9 495.9L397.2 500.2L392.9 504.4L388.7 500.2Z" fill="none" stroke="#454545" stroke-width="0.9"/>
<path d="M403.4 494.8L407.7 499.0L403.4 503.3L399.2 499.0Z" fill="none" stroke="#454545" stroke-width="0.9"/>
<path d="M413.9 493.5L418.2 497.8L413.9 502.0L409.7 497.8Z" fill="none" stroke="#454545" stroke-width="0.9"/>
<path d="M424.5 492.2L428.7 496.5L424.5 500.7L420.2 496.5Z" fill="none" stroke="#454545" stroke-width="0.9"/>
<path d="M435.0 490.7L439.2 495.0L435.0 499.2L430.7 495.0Z" fill="none" stroke="#454545" stroke-width="0.9"/>
<path d="M445.5 489.1L449.7 493.4L445.5 497.6L441.2 493.4Z" fill="none" stroke="#454545" stroke-width="0.9"/>
<path d="M456.0 487.4L460.2 491.7L456.0 495.9L451.7 491.7Z" fill="none" stroke="#454545" stroke-width="0.9"/>
<path d="M466.5 485.7L470.7 489.9L466.5 494.2L462.2 489.9Z" fill="none" stroke="#454545" stroke-width="0.9"/>
<path d="M477.0 483.4L481.2 487.7L477.0 491.9L472.7 487.7Z" fill="none" stroke="#454545" stroke-width="0.9"/>
<path d="M487.5 481.3L491.8 485.5L487.5 489.8L483.2 485.5Z" fill="none" stroke="#454545" stroke-width="0.9"/>
<path d="M498.0 479.1L502.3 483.3L498.0 487.6L493.8 483.3Z" fill="none" stroke="#454545" stroke-width="0.9"/>
<path d="M508.5 476.5L512.8 480.7L508.5 485.0L504.3 480.7Z" fill="none" stroke="#454545" stroke-width="0.9"/>
<path d="M519.0 473.7L523.3 478.0L519.0 482.2L514.8 478.0Z" fill="none" stroke="#454545" stroke-width="0.9"/>
<path d="M529.5 470.5L533.8 474.7L529.5 479.0L525.3 474.7Z" fill="none" stroke="#454545" stroke-width="0.9"/>
<path d="M540.0 467.3L544.3 471.5L540.0 475.8L535.8 471.5Z" fill="none" stroke="#454545" stroke-width="0.9"/>
<path d="M550.5 463.6L554.8 467.8L550.5 472.1L546.3 467.8Z" fill="none" stroke="#454545" stroke-width="0.9"/>
<path d="M561.1 459.7L565.3 463.9L561.1 468.2L556.8 463.9Z" fill="none" stroke="#454545" stroke-width="0.9"/>
<path d="M571.6 455.2L575.8 459.5L571.6 463.7L567.3 459.5Z" fill="none" stroke="#454545" stroke-width="0.9"/>
<path d="M582.1 450.6L586.3 454.8L582.1 459.1L577.8 454.8Z" fill="none" stroke="#454545" stroke-width="0.9"/>
<path d="M592.6 445.7L596.8 449.9L592.6 454.2L588.3 449.9Z" fill="none" stroke="#454545" stroke-width="0.9"/>
<path d="M603.1 439.9L607.3 444.1L603.1 448.4L598.8 444.1Z" fill="none" stroke="#454545" stroke-width="0.9"/>
<path d="M613.6 433.7L617.8 437.9L613.6 442.2L609.3 437.9Z" fill="none" stroke="#454545" stroke-width="0.9"/>
<path d="M624.1 426.4L628.4 430.7L624.1 434.9L619.9 430.7Z" fill="none" stroke="#454545" stroke-width="0.9"/>
<path d="M634.6 418.8L638.9 423.0L634.6 427.3L630.4 423.0Z" fill="none" stroke="#454545" stroke-width="0.9"/>
<path d="M645.1 410.2L649.4 414.5L645.1 418.7L640.9 414.5Z" fill="none" stroke="#454545" stroke-width="0.9"/>
<path d="M655.6 399.8L659.9 404.1L655.6 408.3L651.4 404.1Z" fill="none" stroke="#454545" stroke-width="0.9"/>
<path d="M666.1 390.0L670.4 394.3L666.1 398.5L661.9 394.3Z" fill="none" stroke="#454545" stroke-width="0.9"/>
<path d="M676.6 378.3L680.9 382.5L676.6 386.8L672.4 382.5Z" fill="none" stroke="#454545" stroke-width="0.9"/>
<path d="M687.2 365.3L691.4 369.5L687.2 373.8L682.9 369.5Z" fill="none" stroke="#454545" stroke-width="0.9"/>
<path d="M697.7 350.1L701.9 354.4L697.7 358.6L693.4 354.4Z" fill="none" stroke="#454545" stroke-width="0.9"/>
<path d="M708.2 331.2L712.4 335.5L708.2 339.7L703.9 335.5Z" fill="none" stroke="#454545" stroke-width="0.9"/>
<path d="M718.7 404.0L722.9 408.3L718.7 412.5L714.4 408.3Z" fill="none" stroke="#454545" stroke-width="0.9"/>
<path d="M729.2 388.1L733.4 392.3L729.2 396.6L724.9 392.3Z" fill="none" stroke="#454545" stroke-width="0.9"/>
<path d="M739.7 369.0L743.9 373.2L739.7 377.5L735.4 373.2Z" fill="none" stroke="#454545" stroke-width="0.9"/>
<path d="M750.2 348.1L754.5 352.4L750.2 356.6L746.0 352.4Z" fill="none" stroke="#454545" stroke-width="0.9"/>
<path d="M172.3 510.0L182.8 509.9L193.3 509.7L203.8 509.6L214.3 509.4L224.8 509.3L235.3 509.0L245.8 508.8L256.3 508.5L266.8 508.2L277.3 507.8L287.8 507.4L298.4 507.0L308.9 506.5L319.4 505.9L329.9 505.2L340.4 504.6L350.9 503.9L361.4 503.0L371.9 502.1L382.4 501.1L392.9 500.2L403.4 499.0L413.9 497.8L424.5 496.5L435.0 495.0L445.5 493.4L456.0 491.7L466.5 489.9L477.0 487.7L487.5 485.5L498.0 483.3L508.5 480.7L519.0 478.0L529.5 474.7L540.0 471.5L550.5 467.8L561.1 463.9L571.6 459.5L582.1 454.8L592.6 449.9L603.1 444.1L613.6 437.9L624.1 430.7L634.6 423.0L645.1 414.5L655.6 404.1L666.1 394.3L676.6 382.5L687.2 369.5L697.7 354.4L708.2 335.5L718.7 408.3L729.2 392.3L739.7 373.2L750.2 352.4" fill="none" stroke="#404040" stroke-width="1.0" stroke-linejoin="round"/>
<path d="M172.3 510.4L182.8 510.4L193.3 510.4L203.8 510.4L214.3 510.4L224.8 510.3L235.3 509.9L245.8 509.7L256.3 509.6L266.8 509.4L277.3 509.1L287.8 508.8L298.4 508.5L308.9 508.2L319.4 507.7L329.9 507.3L340.4 506.7L350.9 506.2L361.4 505.5L371.9 504.8L382.4 503.9L392.9 503.0L403.4 502.1L413.9 501.1L424.5 499.9L435.0 498.3L445.5 496.6L456.0 495.0L466.5 493.1L477.0 490.9L487.5 488.7L498.0 486.5L508.5 483.9L519.0 481.4L529.5 478.1L540.0 474.9L550.5 471.3L561.1 467.4L571.6 463.1L582.1 458.4L592.6 452.9L603.1 446.5L613.6 438.9L624.1 431.2L634.6 423.5L645.1 417.0L655.6 410.0L666.1 402.6L676.6 394.8L687.2 390.6L697.7 391.8L708.2 413.2L718.7 427.1L729.2 443.1L739.7 456.5L750.2 460.2" fill="none" stroke="#8c8c8c" stroke-width="1.1" stroke-linejoin="round"/>
<path d="M168.2 506.3L176.4 514.5M168.2 514.5L176.4 506.3M172.3 506.3V514.5" stroke="#858585" stroke-width="1.1" fill="none"/>
<path d="M178.7 506.3L186.9 514.5M178.7 514.5L186.9 506.3M182.8 506.3V514.5" stroke="#858585" stroke-width="1.1" fill="none"/>
<path d="M189.2 506.3L197.4 514.5M189.2 514.5L197.4 506.3M193.3 506.3V514.5" stroke="#858585" stroke-width="1.1" fill="none"/>
<path d="M199.7 506.3L207.9 514.5M199.7 514.5L207.9 506.3M203.8 506.3V514.5" stroke="#858585" stroke-width="1.1" fill="none"/>
<path d="M210.2 506.3L218.4 514.5M210.2 514.5L218.4 506.3M214.3 506.3V514.5" stroke="#858585" stroke-width="1.1" fill="none"/>
<path d="M220.7 506.2L228.9 514.4M220.7 514.4L228.9 506.2M224.8 506.2V514.4" stroke="#858585" stroke-width="1.1" fill="none"/>
<path d="M231.2 505.8L239.4 514.0M231.2 514.0L239.4 505.8M235.3 505.8V514.0" stroke="#858585" stroke-width="1.1" fill="none"/>
<path d="M241.7 505.6L249.9 513.8M241.7 513.8L249.9 505.6M245.8 505.6V513.8" stroke="#858585" stroke-width="1.1" fill="none"/>
<path d="M252.2 505.5L260.4 513.7M252.2 513.7L260.4 505.5M256.3 505.5V513.7" stroke="#858585" stroke-width="1.1" fill="none"/>
<path d="M262.7 505.3L270.9 513.5M262.7 513.5L270.9 505.3M266.8 505.3V513.5" stroke="#858585" stroke-width="1.1" fill="none"/>
<path d="M273.2 505.0L281.4 513.2M273.2 513.2L281.4 505.0M277.3 505.0V513.2" stroke="#858585" stroke-width="1.1" fill="none"/>
<path d="M283.7 504.7L291.9 512.9M283.7 512.9L291.9 504.7M287.8 504.7V512.9" stroke="#858585" stroke-width="1.1" fill="none"/>
<path d="M294.3 504.4L302.5 512.6M294.3 512.6L302.5 504.4M298.4 504.4V512.6" stroke="#858585" stroke-width="1.1" fill="none"/>
<path d="M304.8 504.1L313.0 512.3M304.8 512.3L313.0 504.1M308.9 504.1V512.3" stroke="#858585" stroke-width="1.1" fill="none"/>
<path d="M315.3 503.6L323.5 511.8M315.3 511.8L323.5 503.6M319.4 503.6V511.8" stroke="#858585" stroke-width="1.1" fill="none"/>
<path d="M325.8 503.2L334.0 511.4M325.8 511.4L334.0 503.2M329.9 503.2V511.4" stroke="#858585" stroke-width="1.1" fill="none"/>
<path d="M336.3 502.6L344.5 510.8M336.3 510.8L344.5 502.6M340.4 502.6V510.8" stroke="#858585" stroke-width="1.1" fill="none"/>
<path d="M346.8 502.1L355.0 510.3M346.8 510.3L355.0 502.1M350.9 502.1V510.3" stroke="#858585" stroke-width="1.1" fill="none"/>
<path d="M357.3 501.4L365.5 509.6M357.3 509.6L365.5 501.4M361.4 501.4V509.6" stroke="#858585" stroke-width="1.1" fill="none"/>
<path d="M367.8 500.7L376.0 508.9M367.8 508.9L376.0 500.7M371.9 500.7V508.9" stroke="#858585" stroke-width="1.1" fill="none"/>
<path d="M378.3 499.8L386.5 508.0M378.3 508.0L386.5 499.8M382.4 499.8V508.0" stroke="#858585" stroke-width="1.1" fill="none"/>
<path d="M388.8 498.9L397.0 507.1M388.8 507.1L397.0 498.9M392.9 498.9V507.1" stroke="#858585" stroke-width="1.1" fill="none"/>
<path d="M399.3 498.0L407.5 506.2M399.3 506.2L407.5 498.0M403.4 498.0V506.2" stroke="#858585" stroke-width="1.1" fill="none"/>
<path d="M409.8 497.0L418.0 505.2M409.8 505.2L418.0 497.0M413.9 497.0V505.2" stroke="#858585" stroke-width="1.1" fill="none"/>
<path d="M420.4 495.8L428.6 504.0M420.4 504.0L428.6 495.8M424.5 495.8V504.0" stroke="#858585" stroke-width="1.1" fill="none"/>
<path d="M430.9 494.2L439.1 502.4M430.9 502.4L439.1 494.2M435.0 494.2V502.4" stroke="#858585" stroke-width="1.1" fill="none"/>
<path d="M441.4 492.5L449.6 500.7M441.4 500.7L449.6 492.5M445.5 492.5V500.7" stroke="#858585" stroke-width="1.1" fill="none"/>
<path d="M451.9 490.9L460.1 499.1M451.9 499.1L460.1 490.9M456.0 490.9V499.1" stroke="#858585" stroke-width="1.1" fill="none"/>
<path d="M462.4 489.0L470.6 497.2M462.4 497.2L470.6 489.0M466.5 489.0V497.2" stroke="#858585" stroke-width="1.1" fill="none"/>
<path d="M472.9 486.8L481.1 495.0M472.9 495.0L481.1 486.8M477.0 486.8V495.0" stroke="#858585" stroke-width="1.1" fill="none"/>
<path d="M483.4 484.6L491.6 492.8M483.4 492.8L491.6 484.6M487.5 484.6V492.8" stroke="#858585" stroke-width="1.1" fill="none"/>
<path d="M493.9 482.4L502.1 490.6M493.9 490.6L502.1 482.4M498.0 482.4V490.6" stroke="#858585" stroke-width="1.1" fill="none"/>
<path d="M504.4 479.8L512.6 488.0M504.4 488.0L512.6 479.8M508.5 479.8V488.0" stroke="#858585" stroke-width="1.1" fill="none"/>
<path d="M514.9 477.3L523.1 485.5M514.9 485.5L523.1 477.3M519.0 477.3V485.5" stroke="#858585" stroke-width="1.1" fill="none"/>
<path d="M525.4 474.0L533.6 482.2M525.4 482.2L533.6 474.0M529.5 474.0V482.2" stroke="#858585" stroke-width="1.1" fill="none"/>
<path d="M535.9 470.8L544.1 479.0M535.9 479.0L544.1 470.8M540.0 470.8V479.0" stroke="#858585" stroke-width="1.1" fill="none"/>
<path d="M546.4 467.2L554.6 475.4M546.4 475.4L554.6 467.2M550.5 467.2V475.4" stroke="#858585" stroke-width="1.1" fill="none"/>
<path d="M557.0 463.3L565.2 471.5M557.0 471.5L565.2 463.3M561.1 463.3V471.5" stroke="#858585" stroke-width="1.1" fill="none"/>
<path d="M567.5 459.0L575.7 467.2M567.5 467.2L575.7 459.0M571.6 459.0V467.2" stroke="#858585" stroke-width="1.1" fill="none"/>
<path d="M578.0 454.3L586.2 462.5M578.0 462.5L586.2 454.3M582.1 454.3V462.5" stroke="#858585" stroke-width="1.1" fill="none"/>
<path d="M588.5 448.8L596.7 457.0M588.5 457.0L596.7 448.8M592.6 448.8V457.0" stroke="#858585" stroke-width="1.1" fill="none"/>
<path d="M599.0 442.4L607.2 450.6M599.0 450.6L607.2 442.4M603.1 442.4V450.6" stroke="#858585" stroke-width="1.1" fill="none"/>
<path d="M609.5 434.8L617.7 443.0M609.5 443.0L617.7 434.8M613.6 434.8V443.0" stroke="#858585" stroke-width="1.1" fill="none"/>
<path d="M620.0 427.1L628.2 435.3M620.0 435.3L628.2 427.1M624.1 427.1V435.3" stroke="#858585" stroke-width="1.1" fill="none"/>
<path d="M630.5 419.4L638.7 427.6M630.5 427.6L638.7 419.4M634.6 419.4V427.6" stroke="#858585" stroke-width="1.1" fill="none"/>
<path d="M641.0 412.9L649.2 421.1M641.0 421.1L649.2 412.9M645.1 412.9V421.1" stroke="#858585" stroke-width="1.1" fill="none"/>
<path d="M651.5 405.9L659.7 414.1M651.5 414.1L659.7 405.9M655.6 405.9V414.1" stroke="#858585" stroke-width="1.1" fill="none"/>
<path d="M662.0 398.5L670.2 406.7M662.0 406.7L670.2 398.5M666.1 398.5V406.7" stroke="#858585" stroke-width="1.1" fill="none"/>
<path d="M672.5 390.7L680.7 398.9M672.5 398.9L680.7 390.7M676.6 390.7V398.9" stroke="#858585" stroke-width="1.1" fill="none"/>
<path d="M683.1 386.5L691.3 394.7M683.1 394.7L691.3 386.5M687.2 386.5V394.7" stroke="#858585" stroke-width="1.1" fill="none"/>
<path d="M693.6 387.7L701.8 395.9M693.6 395.9L701.8 387.7M697.7 387.7V395.9" stroke="#858585" stroke-width="1.1" fill="none"/>
<path d="M704.1 409.1L712.3 417.3M704.1 417.3L712.3 409.1M708.2 409.1V417.3" stroke="#858585" stroke-width="1.1" fill="none"/>
<path d="M714.6 423.0L722.8 431.2M714.6 431.2L722.8 423.0M718.7 423.0V431.2" stroke="#858585" stroke-width="1.1" fill="none"/>
<path d="M725.1 439.0L733.3 447.2M725.1 447.2L733.3 439.0M729.2 439.0V447.2" stroke="#858585" stroke-width="1.1" fill="none"/>
<path d="M735.6 452.4L743.8 460.6M735.6 460.6L743.8 452.4M739.7 452.4V460.6" stroke="#858585" stroke-width="1.1" fill="none"/>
<path d="M746.1 456.1L754.3 464.3M746.1 464.3L754.3 456.1M750.2 456.1V464.3" stroke="#858585" stroke-width="1.1" fill="none"/>
<path d="M172.3 510.3L182.8 510.3L193.3 510.3L203.8 510.3L214.3 510.2L224.8 510.2L235.3 510.1L245.8 510.1L256.3 510.0L266.8 509.9L277.3 509.9L287.8 509.7L298.4 509.6L308.9 509.5L319.4 509.4L329.9 509.2L340.4 509.1L350.9 508.8L361.4 508.6L371.9 508.4L382.4 508.1L392.9 507.8L403.4 507.4L413.9 507.1L424.5 506.7L435.0 506.3L445.5 505.9L456.0 505.2L466.5 504.6L477.0 504.0L487.5 503.6L498.0 502.6L508.5 502.1L519.0 501.3L529.5 500.7L540.0 500.0L550.5 499.4L561.1 498.8L571.6 498.5L582.1 498.2L592.6 497.8L603.1 497.6L613.6 497.2L624.1 497.2L634.6 497.1L645.1 497.0L655.6 496.0L666.1 496.0L676.6 496.0L687.2 496.0L697.7 496.0L708.2 496.0L718.7 497.0L729.2 497.2L739.7 498.9L750.2 499.4L760.7 500.6L771.2 501.4L781.7 502.1L792.2 502.6L802.7 504.1" fill="none" stroke="#000000" stroke-width="3.7" stroke-linejoin="round" stroke-linecap="square" clip-path="url(#c167_510)"/>





























































<line x1="131.1" y1="576.9" x2="172.39999999999998" y2="576.9" stroke="#484848" stroke-width="1.7"/>
<circle cx="151.8" cy="576.9" r="3.80" fill="#4d4d4d"/>
<text x="178.6" y="582.5" style="font-family:'Liberation Serif',serif;font-size:16px" textLength="128" lengthAdjust="spacing">ALVARO VINDAS</text>
<line x1="354.7" y1="576.9" x2="396.0" y2="576.9" stroke="#ababab" stroke-width="1.8" stroke-dasharray="5,4"/>
<circle cx="375.4" cy="576.9" r="4.60" fill="#a6a6a6"/>
<text x="402.8" y="582.5" style="font-family:'Liberation Serif',serif;font-size:16px" textLength="154.2" lengthAdjust="spacing">GRUPO AMERICANA</text>
<line x1="579.2" y1="576.9" x2="620.5" y2="576.9" stroke="#787878" stroke-width="1.7"/>
<path d="M599.9 571.7L604.6 581.3H595.1Z" fill="#707070"/>
<text x="625.6" y="582.5" style="font-family:'Liberation Serif',serif;font-size:16px" textLength="113.9" lengthAdjust="spacing">IAPB-57 FRACA</text>
<path d="M151.8 596.5L156.0 600.8L151.8 605.0L147.5 600.8Z" fill="none" stroke="#454545" stroke-width="0.9"/>
<line x1="131.1" y1="600.8" x2="172.39999999999998" y2="600.8" stroke="#404040" stroke-width="1.5"/>
<text x="178.6" y="606.4" style="font-family:'Liberation Serif',serif;font-size:16px" textLength="102.3" lengthAdjust="spacing">LIGHT MEDIA</text>
<line x1="354.7" y1="600.8" x2="396.0" y2="600.8" stroke="#8c8c8c" stroke-width="1.6"/>
<path d="M371.2 596.7L379.5 604.9M371.2 604.9L379.5 596.7M375.4 596.7V604.9" stroke="#858585" stroke-width="1.1" fill="none"/>
<text x="402.8" y="606.4" style="font-family:'Liberation Serif',serif;font-size:16px" textLength="88" lengthAdjust="spacing">Gomes RGPS</text>
<line x1="579.2" y1="600.8" x2="620.5" y2="600.8" stroke="#000000" stroke-width="3"/>

<text x="625.6" y="606.4" style="font-family:'Liberation Serif',serif;font-size:16px" textLength="135" lengthAdjust="spacing">RPPS-CE (ajustada)</text>
<line x1="918.9" y1="427.5" x2="1560.4" y2="427.5" stroke="#c2c2c2" stroke-width="1" stroke-dasharray="1,1.5"/>
<line x1="918.9" y1="343.5" x2="1560.4" y2="343.5" stroke="#c2c2c2" stroke-width="1" stroke-dasharray="1,1.5"/>
<line x1="918.9" y1="260.5" x2="1560.4" y2="260.5" stroke="#c2c2c2" stroke-width="1" stroke-dasharray="1,1.5"/>
<line x1="918.9" y1="177.5" x2="1560.4" y2="177.5" stroke="#c2c2c2" stroke-width="1" stroke-dasharray="1,1.5"/>
<line x1="918.9" y1="94.5" x2="1560.4" y2="94.5" stroke="#c2c2c2" stroke-width="1" stroke-dasharray="1,1.5"/>
<line x1="912.4" y1="510.30" x2="917.4" y2="510.30" stroke="#a8a8a8" stroke-width="1.2"/>
<text x="902.0" y="515.60" text-anchor="end" style="font-family:'Liberation Serif',serif;font-size:16px">0,000</text>
<line x1="912.4" y1="427.12" x2="917.4" y2="427.12" stroke="#a8a8a8" stroke-width="1.8"/>
<text x="902.0" y="432.60" text-anchor="end" style="font-family:'Liberation Serif',serif;font-size:16px">0,001</text>
<line x1="912.4" y1="343.94" x2="917.4" y2="343.94" stroke="#a8a8a8" stroke-width="1.8"/>
<text x="902.0" y="349.60" text-anchor="end" style="font-family:'Liberation Serif',serif;font-size:16px">0,001</text>
<line x1="912.4" y1="260.76" x2="917.4" y2="260.76" stroke="#a8a8a8" stroke-width="1.8"/>
<text x="902.0" y="266.60" text-anchor="end" style="font-family:'Liberation Serif',serif;font-size:16px">0,002</text>
<line x1="912.4" y1="177.58" x2="917.4" y2="177.58" stroke="#a8a8a8" stroke-width="1.8"/>
<text x="902.0" y="183.60" text-anchor="end" style="font-family:'Liberation Serif',serif;font-size:16px">0,002</text>
<line x1="912.4" y1="94.40" x2="917.4" y2="94.40" stroke="#a8a8a8" stroke-width="1.8"/>
<text x="902.0" y="100.60" text-anchor="end" style="font-family:'Liberation Serif',serif;font-size:16px">0,003</text>
<line x1="943.12" y1="510.3" x2="943.12" y2="515.6" stroke="#a4a4a4" stroke-width="1.3"/>
<line x1="968.84" y1="510.3" x2="968.84" y2="515.6" stroke="#a4a4a4" stroke-width="1.3"/>
<line x1="994.56" y1="510.3" x2="994.56" y2="515.6" stroke="#a4a4a4" stroke-width="1.3"/>
<line x1="1020.28" y1="510.3" x2="1020.28" y2="515.6" stroke="#a4a4a4" stroke-width="1.3"/>
<line x1="1046.00" y1="510.3" x2="1046.00" y2="515.6" stroke="#a4a4a4" stroke-width="1.3"/>
<line x1="1071.72" y1="510.3" x2="1071.72" y2="515.6" stroke="#a4a4a4" stroke-width="1.3"/>
<line x1="1097.44" y1="510.3" x2="1097.44" y2="515.6" stroke="#a4a4a4" stroke-width="1.3"/>
<line x1="1123.16" y1="510.3" x2="1123.16" y2="515.6" stroke="#a4a4a4" stroke-width="1.3"/>
<line x1="1148.88" y1="510.3" x2="1148.88" y2="515.6" stroke="#a4a4a4" stroke-width="1.3"/>
<line x1="1174.60" y1="510.3" x2="1174.60" y2="515.6" stroke="#a4a4a4" stroke-width="1.3"/>
<line x1="1200.32" y1="510.3" x2="1200.32" y2="515.6" stroke="#a4a4a4" stroke-width="1.3"/>
<line x1="1226.04" y1="510.3" x2="1226.04" y2="515.6" stroke="#a4a4a4" stroke-width="1.3"/>
<line x1="1251.76" y1="510.3" x2="1251.76" y2="515.6" stroke="#a4a4a4" stroke-width="1.3"/>
<line x1="1277.48" y1="510.3" x2="1277.48" y2="515.6" stroke="#a4a4a4" stroke-width="1.3"/>
<line x1="1303.20" y1="510.3" x2="1303.20" y2="515.6" stroke="#a4a4a4" stroke-width="1.3"/>
<line x1="1328.92" y1="510.3" x2="1328.92" y2="515.6" stroke="#a4a4a4" stroke-width="1.3"/>
<line x1="1354.64" y1="510.3" x2="1354.64" y2="515.6" stroke="#a4a4a4" stroke-width="1.3"/>
<line x1="1380.36" y1="510.3" x2="1380.36" y2="515.6" stroke="#a4a4a4" stroke-width="1.3"/>
<line x1="1406.08" y1="510.3" x2="1406.08" y2="515.6" stroke="#a4a4a4" stroke-width="1.3"/>
<line x1="1431.80" y1="510.3" x2="1431.80" y2="515.6" stroke="#a4a4a4" stroke-width="1.3"/>
<line x1="1457.52" y1="510.3" x2="1457.52" y2="515.6" stroke="#a4a4a4" stroke-width="1.3"/>
<line x1="1483.24" y1="510.3" x2="1483.24" y2="515.6" stroke="#a4a4a4" stroke-width="1.3"/>
<line x1="1508.96" y1="510.3" x2="1508.96" y2="515.6" stroke="#a4a4a4" stroke-width="1.3"/>
<line x1="1534.68" y1="510.3" x2="1534.68" y2="515.6" stroke="#a4a4a4" stroke-width="1.3"/>
<line x1="1560.40" y1="510.3" x2="1560.40" y2="515.6" stroke="#a4a4a4" stroke-width="1.3"/>
<line x1="912.4" y1="510.3" x2="1561.0" y2="510.3" stroke="#a2a2a2" stroke-width="1.2"/>
<line x1="917.4" y1="93.4" x2="917.4" y2="515.6" stroke="#8a8a8a" stroke-width="1.2"/>
<text transform="translate(936.76,527.3) rotate(-90)" text-anchor="end" style="font-family:'Liberation Serif',serif;font-size:16px">15</text>
<text transform="translate(962.48,527.3) rotate(-90)" text-anchor="end" style="font-family:'Liberation Serif',serif;font-size:16px">16</text>
<text transform="translate(988.20,527.3) rotate(-90)" text-anchor="end" style="font-family:'Liberation Serif',serif;font-size:16px">17</text>
<text transform="translate(1013.92,527.3) rotate(-90)" text-anchor="end" style="font-family:'Liberation Serif',serif;font-size:16px">18</text>
<text transform="translate(1039.64,527.3) rotate(-90)" text-anchor="end" style="font-family:'Liberation Serif',serif;font-size:16px">19</text>
<text transform="translate(1065.36,527.3) rotate(-90)" text-anchor="end" style="font-family:'Liberation Serif',serif;font-size:16px">20</text>
<text transform="translate(1091.08,527.3) rotate(-90)" text-anchor="end" style="font-family:'Liberation Serif',serif;font-size:16px">21</text>
<text transform="translate(1116.80,527.3) rotate(-90)" text-anchor="end" style="font-family:'Liberation Serif',serif;font-size:16px">22</text>
<text transform="translate(1142.52,527.3) rotate(-90)" text-anchor="end" style="font-family:'Liberation Serif',serif;font-size:16px">23</text>
<text transform="translate(1168.24,527.3) rotate(-90)" text-anchor="end" style="font-family:'Liberation Serif',serif;font-size:16px">24</text>
<text transform="translate(1193.96,527.3) rotate(-90)" text-anchor="end" style="font-family:'Liberation Serif',serif;font-size:16px">25</text>
<text transform="translate(1219.68,527.3) rotate(-90)" text-anchor="end" style="font-family:'Liberation Serif',serif;font-size:16px">26</text>
<text transform="translate(1245.40,527.3) rotate(-90)" text-anchor="end" style="font-family:'Liberation Serif',serif;font-size:16px">27</text>
<text transform="translate(1271.12,527.3) rotate(-90)" text-anchor="end" style="font-family:'Liberation Serif',serif;font-size:16px">28</text>
<text transform="translate(1296.84,527.3) rotate(-90)" text-anchor="end" style="font-family:'Liberation Serif',serif;font-size:16px">29</text>
<text transform="translate(1322.56,527.3) rotate(-90)" text-anchor="end" style="font-family:'Liberation Serif',serif;font-size:16px">30</text>
<text transform="translate(1348.28,527.3) rotate(-90)" text-anchor="end" style="font-family:'Liberation Serif',serif;font-size:16px">31</text>
<text transform="translate(1374.00,527.3) rotate(-90)" text-anchor="end" style="font-family:'Liberation Serif',serif;font-size:16px">32</text>
<text transform="translate(1399.72,527.3) rotate(-90)" text-anchor="end" style="font-family:'Liberation Serif',serif;font-size:16px">33</text>
<text transform="translate(1425.44,527.3) rotate(-90)" text-anchor="end" style="font-family:'Liberation Serif',serif;font-size:16px">34</text>
<text transform="translate(1451.16,527.3) rotate(-90)" text-anchor="end" style="font-family:'Liberation Serif',serif;font-size:16px">35</text>
<text transform="translate(1476.88,527.3) rotate(-90)" text-anchor="end" style="font-family:'Liberation Serif',serif;font-size:16px">36</text>
<text transform="translate(1502.60,527.3) rotate(-90)" text-anchor="end" style="font-family:'Liberation Serif',serif;font-size:16px">37</text>
<text transform="translate(1528.32,527.3) rotate(-90)" text-anchor="end" style="font-family:'Liberation Serif',serif;font-size:16px">38</text>
<text transform="translate(1554.04,527.3) rotate(-90)" text-anchor="end" style="font-family:'Liberation Serif',serif;font-size:16px">39</text>
<text transform="translate(847,304) rotate(-90)" text-anchor="middle" style="font-family:'Liberation Serif',serif;font-size:16px" textLength="249" lengthAdjust="spacing">Probabilidade de entrada em invalidez</text>
<clipPath id="c917_510"><rect x="917.4" y="84.4" width="643.0000000000001" height="425.50"/></clipPath>
<path d="M930.3 414.5L956.0 414.5L981.7 415.2L1007.4 415.4L1033.1 415.4L1058.9 415.4L1084.6 415.4L1110.3 415.4L1136.0 415.4L1161.7 414.6L1187.5 414.5L1213.2 413.8L1238.9 414.0L1264.6 412.7L1290.3 411.3L1316.1 409.9L1341.8 407.1L1367.5 405.9L1393.2 402.9L1418.9 400.5L1444.7 397.5L1470.4 393.1L1496.1 388.2L1521.8 383.3L1547.5 377.7" fill="none" stroke="#484848" stroke-width="1.2" stroke-linejoin="round"/>
<circle cx="930.3" cy="414.5" r="3.80" fill="#4d4d4d"/>
<circle cx="956.0" cy="414.5" r="3.80" fill="#4d4d4d"/>
<circle cx="981.7" cy="415.2" r="3.80" fill="#4d4d4d"/>
<circle cx="1007.4" cy="415.4" r="3.80" fill="#4d4d4d"/>
<circle cx="1033.1" cy="415.4" r="3.80" fill="#4d4d4d"/>
<circle cx="1058.9" cy="415.4" r="3.80" fill="#4d4d4d"/>
<circle cx="1084.6" cy="415.4" r="3.80" fill="#4d4d4d"/>
<circle cx="1110.3" cy="415.4" r="3.80" fill="#4d4d4d"/>
<circle cx="1136.0" cy="415.4" r="3.80" fill="#4d4d4d"/>
<circle cx="1161.7" cy="414.6" r="3.80" fill="#4d4d4d"/>
<circle cx="1187.5" cy="414.5" r="3.80" fill="#4d4d4d"/>
<circle cx="1213.2" cy="413.8" r="3.80" fill="#4d4d4d"/>
<circle cx="1238.9" cy="414.0" r="3.80" fill="#4d4d4d"/>
<circle cx="1264.6" cy="412.7" r="3.80" fill="#4d4d4d"/>
<circle cx="1290.3" cy="411.3" r="3.80" fill="#4d4d4d"/>
<circle cx="1316.1" cy="409.9" r="3.80" fill="#4d4d4d"/>
<circle cx="1341.8" cy="407.1" r="3.80" fill="#4d4d4d"/>
<circle cx="1367.5" cy="405.9" r="3.80" fill="#4d4d4d"/>
<circle cx="1393.2" cy="402.9" r="3.80" fill="#4d4d4d"/>
<circle cx="1418.9" cy="400.5" r="3.80" fill="#4d4d4d"/>
<circle cx="1444.7" cy="397.5" r="3.80" fill="#4d4d4d"/>
<circle cx="1470.4" cy="393.1" r="3.80" fill="#4d4d4d"/>
<circle cx="1496.1" cy="388.2" r="3.80" fill="#4d4d4d"/>
<circle cx="1521.8" cy="383.3" r="3.80" fill="#4d4d4d"/>
<circle cx="1547.5" cy="377.7" r="3.80" fill="#4d4d4d"/>
<path d="M930.3 459.3L956.0 457.6L981.7 455.6L1007.4 453.2L1033.1 447.8L1058.9 444.1L1084.6 439.2L1110.3 434.1L1136.0 429.2L1161.7 424.5L1187.5 420.6L1213.2 417.6L1238.9 414.7L1264.6 411.5L1290.3 409.7L1316.1 409.2L1341.8 407.8L1367.5 406.4L1393.2 405.9L1418.9 405.9L1444.7 404.9L1470.4 402.9L1496.1 400.5L1521.8 398.0L1547.5 394.9" fill="none" stroke="#ababab" stroke-width="1.3" stroke-dasharray="5,4" stroke-linejoin="round"/>
<circle cx="930.3" cy="459.3" r="4.60" fill="#a6a6a6"/>
<circle cx="956.0" cy="457.6" r="4.60" fill="#a6a6a6"/>
<circle cx="981.7" cy="455.6" r="4.60" fill="#a6a6a6"/>
<circle cx="1007.4" cy="453.2" r="4.60" fill="#a6a6a6"/>
<circle cx="1033.1" cy="447.8" r="4.60" fill="#a6a6a6"/>
<circle cx="1058.9" cy="444.1" r="4.60" fill="#a6a6a6"/>
<circle cx="1084.6" cy="439.2" r="4.60" fill="#a6a6a6"/>
<circle cx="1110.3" cy="434.1" r="4.60" fill="#a6a6a6"/>
<circle cx="1136.0" cy="429.2" r="4.60" fill="#a6a6a6"/>
<circle cx="1161.7" cy="424.5" r="4.60" fill="#a6a6a6"/>
<circle cx="1187.5" cy="420.6" r="4.60" fill="#a6a6a6"/>
<circle cx="1213.2" cy="417.6" r="4.60" fill="#a6a6a6"/>
<circle cx="1238.9" cy="414.7" r="4.60" fill="#a6a6a6"/>
<circle cx="1264.6" cy="411.5" r="4.60" fill="#a6a6a6"/>
<circle cx="1290.3" cy="409.7" r="4.60" fill="#a6a6a6"/>
<circle cx="1316.1" cy="409.2" r="4.60" fill="#a6a6a6"/>
<circle cx="1341.8" cy="407.8" r="4.60" fill="#a6a6a6"/>
<circle cx="1367.5" cy="406.4" r="4.60" fill="#a6a6a6"/>
<circle cx="1393.2" cy="405.9" r="4.60" fill="#a6a6a6"/>
<circle cx="1418.9" cy="405.9" r="4.60" fill="#a6a6a6"/>
<circle cx="1444.7" cy="404.9" r="4.60" fill="#a6a6a6"/>
<circle cx="1470.4" cy="402.9" r="4.60" fill="#a6a6a6"/>
<circle cx="1496.1" cy="400.5" r="4.60" fill="#a6a6a6"/>
<circle cx="1521.8" cy="398.0" r="4.60" fill="#a6a6a6"/>
<circle cx="1547.5" cy="394.9" r="4.60" fill="#a6a6a6"/>
<path d="M930.3 337.2L956.0 335.4L981.7 325.6L1007.4 317.1L1033.1 309.0L1058.9 306.0L1084.6 295.5L1110.3 290.6L1136.0 284.5L1161.7 280.3L1187.5 279.1L1213.2 277.4L1238.9 274.9L1264.6 270.5L1290.3 269.0L1316.1 264.4L1341.8 260.4L1367.5 253.8L1393.2 247.0L1418.9 240.8L1444.7 230.8L1470.4 223.7L1496.1 213.9L1521.8 204.3L1547.5 191.8" fill="none" stroke="#787878" stroke-width="1.2" stroke-linejoin="round"/>
<path d="M930.3 332.0L935.1 341.6H925.5Z" fill="#707070"/>
<path d="M956.0 330.2L960.8 339.8H951.2Z" fill="#707070"/>
<path d="M981.7 320.4L986.5 330.0H976.9Z" fill="#707070"/>
<path d="M1007.4 311.9L1012.2 321.5H1002.6Z" fill="#707070"/>
<path d="M1033.1 303.8L1037.9 313.4H1028.3Z" fill="#707070"/>
<path d="M1058.9 300.8L1063.7 310.4H1054.1Z" fill="#707070"/>
<path d="M1084.6 290.3L1089.4 299.9H1079.8Z" fill="#707070"/>
<path d="M1110.3 285.4L1115.1 295.0H1105.5Z" fill="#707070"/>
<path d="M1136.0 279.3L1140.8 288.9H1131.2Z" fill="#707070"/>
<path d="M1161.7 275.1L1166.5 284.7H1156.9Z" fill="#707070"/>
<path d="M1187.5 273.9L1192.3 283.5H1182.7Z" fill="#707070"/>
<path d="M1213.2 272.2L1218.0 281.8H1208.4Z" fill="#707070"/>
<path d="M1238.9 269.7L1243.7 279.3H1234.1Z" fill="#707070"/>
<path d="M1264.6 265.3L1269.4 274.9H1259.8Z" fill="#707070"/>
<path d="M1290.3 263.8L1295.1 273.4H1285.5Z" fill="#707070"/>
<path d="M1316.1 259.2L1320.9 268.8H1311.3Z" fill="#707070"/>
<path d="M1341.8 255.2L1346.6 264.8H1337.0Z" fill="#707070"/>
<path d="M1367.5 248.6L1372.3 258.2H1362.7Z" fill="#707070"/>
<path d="M1393.2 241.8L1398.0 251.4H1388.4Z" fill="#707070"/>
<path d="M1418.9 235.6L1423.7 245.2H1414.1Z" fill="#707070"/>
<path d="M1444.7 225.6L1449.5 235.2H1439.9Z" fill="#707070"/>
<path d="M1470.4 218.5L1475.2 228.1H1465.6Z" fill="#707070"/>
<path d="M1496.1 208.7L1500.9 218.3H1491.3Z" fill="#707070"/>
<path d="M1521.8 199.1L1526.6 208.7H1517.0Z" fill="#707070"/>
<path d="M1547.5 186.6L1552.3 196.2H1542.7Z" fill="#707070"/>
<path d="M930.3 494.3L934.5 498.5L930.3 502.8L926.0 498.5Z" fill="none" stroke="#454545" stroke-width="0.9"/>
<path d="M956.0 491.1L960.2 495.3L956.0 499.6L951.7 495.3Z" fill="none" stroke="#454545" stroke-width="0.9"/>
<path d="M981.7 487.7L986.0 491.9L981.7 496.2L977.5 491.9Z" fill="none" stroke="#454545" stroke-width="0.9"/>
<path d="M1007.4 484.0L1011.7 488.2L1007.4 492.5L1003.2 488.2Z" fill="none" stroke="#454545" stroke-width="0.9"/>
<path d="M1033.1 479.1L1037.4 483.3L1033.1 487.6L1028.9 483.3Z" fill="none" stroke="#454545" stroke-width="0.9"/>
<path d="M1058.9 474.2L1063.1 478.4L1058.9 482.7L1054.6 478.4Z" fill="none" stroke="#454545" stroke-width="0.9"/>
<path d="M1084.6 467.3L1088.8 471.6L1084.6 475.8L1080.3 471.6Z" fill="none" stroke="#454545" stroke-width="0.9"/>
<path d="M1110.3 461.4L1114.5 465.7L1110.3 469.9L1106.0 465.7Z" fill="none" stroke="#454545" stroke-width="0.9"/>
<path d="M1136.0 452.6L1140.3 456.9L1136.0 461.1L1131.8 456.9Z" fill="none" stroke="#454545" stroke-width="0.9"/>
<path d="M1161.7 444.5L1166.0 448.8L1161.7 453.0L1157.5 448.8Z" fill="none" stroke="#454545" stroke-width="0.9"/>
<path d="M1187.5 432.8L1191.7 437.0L1187.5 441.3L1183.2 437.0Z" fill="none" stroke="#454545" stroke-width="0.9"/>
<path d="M1213.2 421.2L1217.4 425.5L1213.2 429.7L1208.9 425.5Z" fill="none" stroke="#454545" stroke-width="0.9"/>
<path d="M1238.9 409.7L1243.2 414.0L1238.9 418.2L1234.7 414.0Z" fill="none" stroke="#454545" stroke-width="0.9"/>
<path d="M1264.6 395.8L1268.9 400.0L1264.6 404.2L1260.4 400.0Z" fill="none" stroke="#454545" stroke-width="0.9"/>
<path d="M1290.3 379.7L1294.6 383.9L1290.3 388.2L1286.1 383.9Z" fill="none" stroke="#454545" stroke-width="0.9"/>
<path d="M1316.1 359.5L1320.3 363.8L1316.1 368.0L1311.8 363.8Z" fill="none" stroke="#454545" stroke-width="0.9"/>
<path d="M1341.8 342.8L1346.0 347.0L1341.8 351.3L1337.5 347.0Z" fill="none" stroke="#454545" stroke-width="0.9"/>
<path d="M1367.5 322.9L1371.8 327.2L1367.5 331.4L1363.2 327.2Z" fill="none" stroke="#454545" stroke-width="0.9"/>
<path d="M1393.2 299.4L1397.5 303.6L1393.2 307.9L1389.0 303.6Z" fill="none" stroke="#454545" stroke-width="0.9"/>
<path d="M1418.9 274.8L1423.2 279.1L1418.9 283.3L1414.7 279.1Z" fill="none" stroke="#454545" stroke-width="0.9"/>
<path d="M1444.7 244.7L1448.9 248.9L1444.7 253.2L1440.4 248.9Z" fill="none" stroke="#454545" stroke-width="0.9"/>
<path d="M1470.4 219.4L1474.6 223.7L1470.4 227.9L1466.1 223.7Z" fill="none" stroke="#454545" stroke-width="0.9"/>
<path d="M1496.1 187.6L1500.4 191.8L1496.1 196.1L1491.9 191.8Z" fill="none" stroke="#454545" stroke-width="0.9"/>
<path d="M1521.8 152.8L1526.1 157.0L1521.8 161.3L1517.6 157.0Z" fill="none" stroke="#454545" stroke-width="0.9"/>
<path d="M1547.5 116.7L1551.8 121.0L1547.5 125.2L1543.3 121.0Z" fill="none" stroke="#454545" stroke-width="0.9"/>
<path d="M930.3 498.5L956.0 495.3L981.7 491.9L1007.4 488.2L1033.1 483.3L1058.9 478.4L1084.6 471.6L1110.3 465.7L1136.0 456.9L1161.7 448.8L1187.5 437.0L1213.2 425.5L1238.9 414.0L1264.6 400.0L1290.3 383.9L1316.1 363.8L1341.8 347.0L1367.5 327.2L1393.2 303.6L1418.9 279.1L1444.7 248.9L1470.4 223.7L1496.1 191.8L1521.8 157.0L1547.5 121.0" fill="none" stroke="#404040" stroke-width="1.0" stroke-linejoin="round"/>
<path d="M930.3 511.3L956.0 511.3L981.7 511.3L1007.4 511.3L1033.1 511.0L1058.9 508.3L1084.6 496.1L1110.3 491.9L1136.0 487.5L1161.7 481.4L1187.5 474.5L1213.2 465.9L1238.9 455.9L1264.6 448.0L1290.3 435.5L1316.1 422.5L1341.8 407.1L1367.5 391.4L1393.2 372.8L1418.9 352.6L1444.7 329.2L1470.4 303.9L1496.1 279.1L1521.8 249.4L1547.5 216.3" fill="none" stroke="#8c8c8c" stroke-width="1.1" stroke-linejoin="round"/>
<path d="M926.2 507.2L934.4 515.4M926.2 515.4L934.4 507.2M930.3 507.2V515.4" stroke="#858585" stroke-width="1.1" fill="none"/>
<path d="M951.9 507.2L960.1 515.4M951.9 515.4L960.1 507.2M956.0 507.2V515.4" stroke="#858585" stroke-width="1.1" fill="none"/>
<path d="M977.6 507.2L985.8 515.4M977.6 515.4L985.8 507.2M981.7 507.2V515.4" stroke="#858585" stroke-width="1.1" fill="none"/>
<path d="M1003.3 507.2L1011.5 515.4M1003.3 515.4L1011.5 507.2M1007.4 507.2V515.4" stroke="#858585" stroke-width="1.1" fill="none"/>
<path d="M1029.0 506.9L1037.2 515.1M1029.0 515.1L1037.2 506.9M1033.1 506.9V515.1" stroke="#858585" stroke-width="1.1" fill="none"/>
<path d="M1054.8 504.2L1063.0 512.4M1054.8 512.4L1063.0 504.2M1058.9 504.2V512.4" stroke="#858585" stroke-width="1.1" fill="none"/>
<path d="M1080.5 492.0L1088.7 500.2M1080.5 500.2L1088.7 492.0M1084.6 492.0V500.2" stroke="#858585" stroke-width="1.1" fill="none"/>
<path d="M1106.2 487.8L1114.4 496.0M1106.2 496.0L1114.4 487.8M1110.3 487.8V496.0" stroke="#858585" stroke-width="1.1" fill="none"/>
<path d="M1131.9 483.4L1140.1 491.6M1131.9 491.6L1140.1 483.4M1136.0 483.4V491.6" stroke="#858585" stroke-width="1.1" fill="none"/>
<path d="M1157.6 477.3L1165.8 485.5M1157.6 485.5L1165.8 477.3M1161.7 477.3V485.5" stroke="#858585" stroke-width="1.1" fill="none"/>
<path d="M1183.4 470.4L1191.6 478.6M1183.4 478.6L1191.6 470.4M1187.5 470.4V478.6" stroke="#858585" stroke-width="1.1" fill="none"/>
<path d="M1209.1 461.8L1217.3 470.0M1209.1 470.0L1217.3 461.8M1213.2 461.8V470.0" stroke="#858585" stroke-width="1.1" fill="none"/>
<path d="M1234.8 451.8L1243.0 460.0M1234.8 460.0L1243.0 451.8M1238.9 451.8V460.0" stroke="#858585" stroke-width="1.1" fill="none"/>
<path d="M1260.5 443.9L1268.7 452.1M1260.5 452.1L1268.7 443.9M1264.6 443.9V452.1" stroke="#858585" stroke-width="1.1" fill="none"/>
<path d="M1286.2 431.4L1294.4 439.6M1286.2 439.6L1294.4 431.4M1290.3 431.4V439.6" stroke="#858585" stroke-width="1.1" fill="none"/>
<path d="M1312.0 418.4L1320.2 426.6M1312.0 426.6L1320.2 418.4M1316.1 418.4V426.6" stroke="#858585" stroke-width="1.1" fill="none"/>
<path d="M1337.7 403.0L1345.9 411.2M1337.7 411.2L1345.9 403.0M1341.8 403.0V411.2" stroke="#858585" stroke-width="1.1" fill="none"/>
<path d="M1363.4 387.3L1371.6 395.5M1363.4 395.5L1371.6 387.3M1367.5 387.3V395.5" stroke="#858585" stroke-width="1.1" fill="none"/>
<path d="M1389.1 368.7L1397.3 376.9M1389.1 376.9L1397.3 368.7M1393.2 368.7V376.9" stroke="#858585" stroke-width="1.1" fill="none"/>
<path d="M1414.8 348.5L1423.0 356.7M1414.8 356.7L1423.0 348.5M1418.9 348.5V356.7" stroke="#858585" stroke-width="1.1" fill="none"/>
<path d="M1440.6 325.1L1448.8 333.3M1440.6 333.3L1448.8 325.1M1444.7 325.1V333.3" stroke="#858585" stroke-width="1.1" fill="none"/>
<path d="M1466.3 299.8L1474.5 308.0M1466.3 308.0L1474.5 299.8M1470.4 299.8V308.0" stroke="#858585" stroke-width="1.1" fill="none"/>
<path d="M1492.0 275.0L1500.2 283.2M1492.0 283.2L1500.2 275.0M1496.1 275.0V283.2" stroke="#858585" stroke-width="1.1" fill="none"/>
<path d="M1517.7 245.3L1525.9 253.5M1517.7 253.5L1525.9 245.3M1521.8 245.3V253.5" stroke="#858585" stroke-width="1.1" fill="none"/>
<path d="M1543.4 212.2L1551.6 220.4M1543.4 220.4L1551.6 212.2M1547.5 212.2V220.4" stroke="#858585" stroke-width="1.1" fill="none"/>
<path d="M930.3 508.3L956.0 507.8L981.7 507.1L1007.4 506.1L1033.1 505.4L1058.9 503.4L1084.6 502.5L1110.3 501.5L1136.0 499.0L1161.7 497.3L1187.5 495.3L1213.2 491.9L1238.9 489.2L1264.6 485.8L1290.3 481.9L1316.1 477.0L1341.8 472.9L1367.5 466.7L1393.2 461.0L1418.9 453.9L1444.7 445.1L1470.4 438.0L1496.1 427.5L1521.8 418.1L1547.5 406.6" fill="none" stroke="#000000" stroke-width="3.7" stroke-linejoin="round" stroke-linecap="square" clip-path="url(#c917_510)"/>

























<line x1="881.1" y1="576.8" x2="922.4" y2="576.8" stroke="#484848" stroke-width="1.7"/>
<circle cx="901.8" cy="576.8" r="3.80" fill="#4d4d4d"/>
<text x="928.6" y="582.4" style="font-family:'Liberation Serif',serif;font-size:16px" textLength="129" lengthAdjust="spacing">ALVARO VINDAS</text>
<line x1="1105.8" y1="576.8" x2="1147.1" y2="576.8" stroke="#ababab" stroke-width="1.8" stroke-dasharray="5,4"/>
<circle cx="1126.4" cy="576.8" r="4.60" fill="#a6a6a6"/>
<text x="1153.2" y="582.4" style="font-family:'Liberation Serif',serif;font-size:16px" textLength="154.9" lengthAdjust="spacing">GRUPO AMERICANA</text>
<line x1="1330.3" y1="576.8" x2="1371.6" y2="576.8" stroke="#787878" stroke-width="1.7"/>
<path d="M1350.9 571.6L1355.7 581.2H1346.1Z" fill="#707070"/>
<text x="1377.7" y="582.4" style="font-family:'Liberation Serif',serif;font-size:16px" textLength="113" lengthAdjust="spacing">IAPB-57 FRACA</text>
<path d="M901.8 596.5L906.0 600.7L901.8 605.0L897.5 600.7Z" fill="none" stroke="#454545" stroke-width="0.9"/>
<line x1="881.1" y1="600.7" x2="922.4" y2="600.7" stroke="#404040" stroke-width="1.5"/>
<text x="928.6" y="606.3000000000001" style="font-family:'Liberation Serif',serif;font-size:16px" textLength="102.8" lengthAdjust="spacing">LIGHT MEDIA</text>
<line x1="1105.8" y1="600.7" x2="1147.1" y2="600.7" stroke="#8c8c8c" stroke-width="1.6"/>
<path d="M1122.3 596.6L1130.5 604.8M1122.3 604.8L1130.5 596.6M1126.4 596.6V604.8" stroke="#858585" stroke-width="1.1" fill="none"/>
<text x="1153.2" y="606.3000000000001" style="font-family:'Liberation Serif',serif;font-size:16px" textLength="88.5" lengthAdjust="spacing">Gomes RGPS</text>
<line x1="1330.3" y1="600.7" x2="1371.6" y2="600.7" stroke="#000000" stroke-width="3"/>

<text x="1377.7" y="606.3000000000001" style="font-family:'Liberation Serif',serif;font-size:16px" textLength="135.5" lengthAdjust="spacing">RPPS-CE (ajustada)</text>
<line x1="168.4" y1="1006.5" x2="808.0" y2="1006.5" stroke="#c2c2c2" stroke-width="1" stroke-dasharray="1,1.5"/>
<line x1="168.4" y1="960.5" x2="808.0" y2="960.5" stroke="#c2c2c2" stroke-width="1" stroke-dasharray="1,1.5"/>
<line x1="168.4" y1="914.5" x2="808.0" y2="914.5" stroke="#c2c2c2" stroke-width="1" stroke-dasharray="1,1.5"/>
<line x1="168.4" y1="867.5" x2="808.0" y2="867.5" stroke="#c2c2c2" stroke-width="1" stroke-dasharray="1,1.5"/>
<line x1="168.4" y1="821.5" x2="808.0" y2="821.5" stroke="#c2c2c2" stroke-width="1" stroke-dasharray="1,1.5"/>
<line x1="168.4" y1="775.5" x2="808.0" y2="775.5" stroke="#c2c2c2" stroke-width="1" stroke-dasharray="1,1.5"/>
<line x1="168.4" y1="729.5" x2="808.0" y2="729.5" stroke="#c2c2c2" stroke-width="1" stroke-dasharray="1,1.5"/>
<line x1="168.4" y1="683.5" x2="808.0" y2="683.5" stroke="#c2c2c2" stroke-width="1" stroke-dasharray="1,1.5"/>
<line x1="168.4" y1="636.5" x2="808.0" y2="636.5" stroke="#c2c2c2" stroke-width="1" stroke-dasharray="1,1.5"/>
<line x1="161.9" y1="1052.90" x2="166.9" y2="1052.90" stroke="#a8a8a8" stroke-width="2.0"/>
<text x="151.5" y="1057.60" text-anchor="end" style="font-family:'Liberation Serif',serif;font-size:16px">0,000</text>
<line x1="161.9" y1="1006.67" x2="166.9" y2="1006.67" stroke="#a8a8a8" stroke-width="1.8"/>
<text x="151.5" y="1011.51" text-anchor="end" style="font-family:'Liberation Serif',serif;font-size:16px">0,002</text>
<line x1="161.9" y1="960.43" x2="166.9" y2="960.43" stroke="#a8a8a8" stroke-width="1.8"/>
<text x="151.5" y="965.42" text-anchor="end" style="font-family:'Liberation Serif',serif;font-size:16px">0,004</text>
<line x1="161.9" y1="914.20" x2="166.9" y2="914.20" stroke="#a8a8a8" stroke-width="1.8"/>
<text x="151.5" y="919.33" text-anchor="end" style="font-family:'Liberation Serif',serif;font-size:16px">0,006</text>
<line x1="161.9" y1="867.97" x2="166.9" y2="867.97" stroke="#a8a8a8" stroke-width="1.8"/>
<text x="151.5" y="873.24" text-anchor="end" style="font-family:'Liberation Serif',serif;font-size:16px">0,008</text>
<line x1="161.9" y1="821.73" x2="166.9" y2="821.73" stroke="#a8a8a8" stroke-width="1.8"/>
<text x="151.5" y="827.16" text-anchor="end" style="font-family:'Liberation Serif',serif;font-size:16px">0,010</text>
<line x1="161.9" y1="775.50" x2="166.9" y2="775.50" stroke="#a8a8a8" stroke-width="1.8"/>
<text x="151.5" y="781.07" text-anchor="end" style="font-family:'Liberation Serif',serif;font-size:16px">0,012</text>
<line x1="161.9" y1="729.27" x2="166.9" y2="729.27" stroke="#a8a8a8" stroke-width="1.8"/>
<text x="151.5" y="734.98" text-anchor="end" style="font-family:'Liberation Serif',serif;font-size:16px">0,014</text>
<line x1="161.9" y1="683.03" x2="166.9" y2="683.03" stroke="#a8a8a8" stroke-width="1.8"/>
<text x="151.5" y="688.89" text-anchor="end" style="font-family:'Liberation Serif',serif;font-size:16px">0,016</text>
<line x1="161.9" y1="636.80" x2="166.9" y2="636.80" stroke="#a8a8a8" stroke-width="1.8"/>
<text x="151.5" y="642.80" text-anchor="end" style="font-family:'Liberation Serif',serif;font-size:16px">0,018</text>
<line x1="197.43" y1="1052.9" x2="197.43" y2="1058.2" stroke="#a4a4a4" stroke-width="1.3"/>
<line x1="227.96" y1="1052.9" x2="227.96" y2="1058.2" stroke="#a4a4a4" stroke-width="1.3"/>
<line x1="258.49" y1="1052.9" x2="258.49" y2="1058.2" stroke="#a4a4a4" stroke-width="1.3"/>
<line x1="289.01" y1="1052.9" x2="289.01" y2="1058.2" stroke="#a4a4a4" stroke-width="1.3"/>
<line x1="319.54" y1="1052.9" x2="319.54" y2="1058.2" stroke="#a4a4a4" stroke-width="1.3"/>
<line x1="350.07" y1="1052.9" x2="350.07" y2="1058.2" stroke="#a4a4a4" stroke-width="1.3"/>
<line x1="380.60" y1="1052.9" x2="380.60" y2="1058.2" stroke="#a4a4a4" stroke-width="1.3"/>
<line x1="411.13" y1="1052.9" x2="411.13" y2="1058.2" stroke="#a4a4a4" stroke-width="1.3"/>
<line x1="441.66" y1="1052.9" x2="441.66" y2="1058.2" stroke="#a4a4a4" stroke-width="1.3"/>
<line x1="472.19" y1="1052.9" x2="472.19" y2="1058.2" stroke="#a4a4a4" stroke-width="1.3"/>
<line x1="502.71" y1="1052.9" x2="502.71" y2="1058.2" stroke="#a4a4a4" stroke-width="1.3"/>
<line x1="533.24" y1="1052.9" x2="533.24" y2="1058.2" stroke="#a4a4a4" stroke-width="1.3"/>
<line x1="563.77" y1="1052.9" x2="563.77" y2="1058.2" stroke="#a4a4a4" stroke-width="1.3"/>
<line x1="594.30" y1="1052.9" x2="594.30" y2="1058.2" stroke="#a4a4a4" stroke-width="1.3"/>
<line x1="624.83" y1="1052.9" x2="624.83" y2="1058.2" stroke="#a4a4a4" stroke-width="1.3"/>
<line x1="655.36" y1="1052.9" x2="655.36" y2="1058.2" stroke="#a4a4a4" stroke-width="1.3"/>
<line x1="685.89" y1="1052.9" x2="685.89" y2="1058.2" stroke="#a4a4a4" stroke-width="1.3"/>
<line x1="716.41" y1="1052.9" x2="716.41" y2="1058.2" stroke="#a4a4a4" stroke-width="1.3"/>
<line x1="746.94" y1="1052.9" x2="746.94" y2="1058.2" stroke="#a4a4a4" stroke-width="1.3"/>
<line x1="777.47" y1="1052.9" x2="777.47" y2="1058.2" stroke="#a4a4a4" stroke-width="1.3"/>
<line x1="808.00" y1="1052.9" x2="808.00" y2="1058.2" stroke="#a4a4a4" stroke-width="1.3"/>
<line x1="161.9" y1="1052.9" x2="808.6" y2="1052.9" stroke="#a2a2a2" stroke-width="2.0"/>
<line x1="166.9" y1="635.8" x2="166.9" y2="1058.2" stroke="#8a8a8a" stroke-width="2.0"/>
<text transform="translate(188.66,1069.9) rotate(-90)" text-anchor="end" style="font-family:'Liberation Serif',serif;font-size:16px">40</text>
<text transform="translate(219.19,1069.9) rotate(-90)" text-anchor="end" style="font-family:'Liberation Serif',serif;font-size:16px">41</text>
<text transform="translate(249.72,1069.9) rotate(-90)" text-anchor="end" style="font-family:'Liberation Serif',serif;font-size:16px">42</text>
<text transform="translate(280.25,1069.9) rotate(-90)" text-anchor="end" style="font-family:'Liberation Serif',serif;font-size:16px">43</text>
<text transform="translate(310.78,1069.9) rotate(-90)" text-anchor="end" style="font-family:'Liberation Serif',serif;font-size:16px">44</text>
<text transform="translate(341.31,1069.9) rotate(-90)" text-anchor="end" style="font-family:'Liberation Serif',serif;font-size:16px">45</text>
<text transform="translate(371.84,1069.9) rotate(-90)" text-anchor="end" style="font-family:'Liberation Serif',serif;font-size:16px">46</text>
<text transform="translate(402.36,1069.9) rotate(-90)" text-anchor="end" style="font-family:'Liberation Serif',serif;font-size:16px">47</text>
<text transform="translate(432.89,1069.9) rotate(-90)" text-anchor="end" style="font-family:'Liberation Serif',serif;font-size:16px">48</text>
<text transform="translate(463.42,1069.9) rotate(-90)" text-anchor="end" style="font-family:'Liberation Serif',serif;font-size:16px">49</text>
<text transform="translate(493.95,1069.9) rotate(-90)" text-anchor="end" style="font-family:'Liberation Serif',serif;font-size:16px">50</text>
<text transform="translate(524.48,1069.9) rotate(-90)" text-anchor="end" style="font-family:'Liberation Serif',serif;font-size:16px">51</text>
<text transform="translate(555.01,1069.9) rotate(-90)" text-anchor="end" style="font-family:'Liberation Serif',serif;font-size:16px">52</text>
<text transform="translate(585.54,1069.9) rotate(-90)" text-anchor="end" style="font-family:'Liberation Serif',serif;font-size:16px">53</text>
<text transform="translate(616.06,1069.9) rotate(-90)" text-anchor="end" style="font-family:'Liberation Serif',serif;font-size:16px">54</text>
<text transform="translate(646.59,1069.9) rotate(-90)" text-anchor="end" style="font-family:'Liberation Serif',serif;font-size:16px">55</text>
<text transform="translate(677.12,1069.9) rotate(-90)" text-anchor="end" style="font-family:'Liberation Serif',serif;font-size:16px">56</text>
<text transform="translate(707.65,1069.9) rotate(-90)" text-anchor="end" style="font-family:'Liberation Serif',serif;font-size:16px">57</text>
<text transform="translate(738.18,1069.9) rotate(-90)" text-anchor="end" style="font-family:'Liberation Serif',serif;font-size:16px">58</text>
<text transform="translate(768.71,1069.9) rotate(-90)" text-anchor="end" style="font-family:'Liberation Serif',serif;font-size:16px">59</text>
<text transform="translate(799.24,1069.9) rotate(-90)" text-anchor="end" style="font-family:'Liberation Serif',serif;font-size:16px">60</text>
<text transform="translate(97,846) rotate(-90)" text-anchor="middle" style="font-family:'Liberation Serif',serif;font-size:16px" textLength="249" lengthAdjust="spacing">Probabilidade de entrada em invalidez</text>
<clipPath id="c166_1052"><rect x="166.9" y="626.8" width="641.1" height="425.70"/></clipPath>
<path d="M182.2 1032.4L212.7 1031.6L243.2 1030.4L273.8 1027.9L304.3 1026.7L334.8 1024.3L365.3 1022.5L395.9 1020.6L426.4 1016.9L456.9 1013.2L487.5 1010.0L518.0 1005.9L548.5 1001.5L579.0 995.6L609.6 989.2L640.1 981.6L670.6 973.3L701.1 963.5L731.7 952.5L762.2 940.0L792.7 925.2" fill="none" stroke="#484848" stroke-width="1.2" stroke-linejoin="round"/>
<circle cx="182.2" cy="1032.4" r="3.80" fill="#4d4d4d"/>
<circle cx="212.7" cy="1031.6" r="3.80" fill="#4d4d4d"/>
<circle cx="243.2" cy="1030.4" r="3.80" fill="#4d4d4d"/>
<circle cx="273.8" cy="1027.9" r="3.80" fill="#4d4d4d"/>
<circle cx="304.3" cy="1026.7" r="3.80" fill="#4d4d4d"/>
<circle cx="334.8" cy="1024.3" r="3.80" fill="#4d4d4d"/>
<circle cx="365.3" cy="1022.5" r="3.80" fill="#4d4d4d"/>
<circle cx="395.9" cy="1020.6" r="3.80" fill="#4d4d4d"/>
<circle cx="426.4" cy="1016.9" r="3.80" fill="#4d4d4d"/>
<circle cx="456.9" cy="1013.2" r="3.80" fill="#4d4d4d"/>
<circle cx="487.5" cy="1010.0" r="3.80" fill="#4d4d4d"/>
<circle cx="518.0" cy="1005.9" r="3.80" fill="#4d4d4d"/>
<circle cx="548.5" cy="1001.5" r="3.80" fill="#4d4d4d"/>
<circle cx="579.0" cy="995.6" r="3.80" fill="#4d4d4d"/>
<circle cx="609.6" cy="989.2" r="3.80" fill="#4d4d4d"/>
<circle cx="640.1" cy="981.6" r="3.80" fill="#4d4d4d"/>
<circle cx="670.6" cy="973.3" r="3.80" fill="#4d4d4d"/>
<circle cx="701.1" cy="963.5" r="3.80" fill="#4d4d4d"/>
<circle cx="731.7" cy="952.5" r="3.80" fill="#4d4d4d"/>
<circle cx="762.2" cy="940.0" r="3.80" fill="#4d4d4d"/>
<circle cx="792.7" cy="925.2" r="3.80" fill="#4d4d4d"/>
<path d="M182.2 1037.0L212.7 1036.0L243.2 1035.8L273.8 1034.1L304.3 1032.4L334.8 1031.1L365.3 1029.9L395.9 1027.9L426.4 1026.1L456.9 1023.8L487.5 1021.3L518.0 1018.1L548.5 1015.7L579.0 1012.7L609.6 1009.6L640.1 1005.1L670.6 1001.0L701.1 996.1L731.7 991.2L762.2 986.0L792.7 980.6" fill="none" stroke="#ababab" stroke-width="1.3" stroke-dasharray="5,4" stroke-linejoin="round"/>
<circle cx="182.2" cy="1037.0" r="4.60" fill="#a6a6a6"/>
<circle cx="212.7" cy="1036.0" r="4.60" fill="#a6a6a6"/>
<circle cx="243.2" cy="1035.8" r="4.60" fill="#a6a6a6"/>
<circle cx="273.8" cy="1034.1" r="4.60" fill="#a6a6a6"/>
<circle cx="304.3" cy="1032.4" r="4.60" fill="#a6a6a6"/>
<circle cx="334.8" cy="1031.1" r="4.60" fill="#a6a6a6"/>
<circle cx="365.3" cy="1029.9" r="4.60" fill="#a6a6a6"/>
<circle cx="395.9" cy="1027.9" r="4.60" fill="#a6a6a6"/>
<circle cx="426.4" cy="1026.1" r="4.60" fill="#a6a6a6"/>
<circle cx="456.9" cy="1023.8" r="4.60" fill="#a6a6a6"/>
<circle cx="487.5" cy="1021.3" r="4.60" fill="#a6a6a6"/>
<circle cx="518.0" cy="1018.1" r="4.60" fill="#a6a6a6"/>
<circle cx="548.5" cy="1015.7" r="4.60" fill="#a6a6a6"/>
<circle cx="579.0" cy="1012.7" r="4.60" fill="#a6a6a6"/>
<circle cx="609.6" cy="1009.6" r="4.60" fill="#a6a6a6"/>
<circle cx="640.1" cy="1005.1" r="4.60" fill="#a6a6a6"/>
<circle cx="670.6" cy="1001.0" r="4.60" fill="#a6a6a6"/>
<circle cx="701.1" cy="996.1" r="4.60" fill="#a6a6a6"/>
<circle cx="731.7" cy="991.2" r="4.60" fill="#a6a6a6"/>
<circle cx="762.2" cy="986.0" r="4.60" fill="#a6a6a6"/>
<circle cx="792.7" cy="980.6" r="4.60" fill="#a6a6a6"/>
<path d="M182.2 1007.8L212.7 1005.4L243.2 1003.9L273.8 1002.2L304.3 999.0L334.8 996.8L365.3 993.1L395.9 989.7L426.4 985.3L456.9 981.9L487.5 974.0L518.0 964.5L548.5 953.9L579.0 941.5L609.6 926.7L640.1 909.4L670.6 889.7L701.1 862.8L731.7 830.6L762.2 809.3L792.7 777.2" fill="none" stroke="#787878" stroke-width="1.2" stroke-linejoin="round"/>
<path d="M182.2 1002.6L187.0 1012.2H177.4Z" fill="#707070"/>
<path d="M212.7 1000.2L217.5 1009.8H207.9Z" fill="#707070"/>
<path d="M243.2 998.7L248.0 1008.3H238.4Z" fill="#707070"/>
<path d="M273.8 997.0L278.6 1006.6H268.9Z" fill="#707070"/>
<path d="M304.3 993.8L309.1 1003.4H299.5Z" fill="#707070"/>
<path d="M334.8 991.6L339.6 1001.2H330.0Z" fill="#707070"/>
<path d="M365.3 987.9L370.1 997.5H360.5Z" fill="#707070"/>
<path d="M395.9 984.5L400.7 994.1H391.1Z" fill="#707070"/>
<path d="M426.4 980.1L431.2 989.7H421.6Z" fill="#707070"/>
<path d="M456.9 976.7L461.7 986.3H452.1Z" fill="#707070"/>
<path d="M487.5 968.8L492.3 978.4H482.7Z" fill="#707070"/>
<path d="M518.0 959.3L522.8 968.9H513.2Z" fill="#707070"/>
<path d="M548.5 948.7L553.3 958.3H543.7Z" fill="#707070"/>
<path d="M579.0 936.3L583.8 945.9H574.2Z" fill="#707070"/>
<path d="M609.6 921.5L614.4 931.1H604.8Z" fill="#707070"/>
<path d="M640.1 904.2L644.9 913.8H635.3Z" fill="#707070"/>
<path d="M670.6 884.5L675.4 894.1H665.8Z" fill="#707070"/>
<path d="M701.1 857.6L705.9 867.2H696.4Z" fill="#707070"/>
<path d="M731.7 825.4L736.5 835.0H726.9Z" fill="#707070"/>
<path d="M762.2 804.1L767.0 813.7H757.4Z" fill="#707070"/>
<path d="M792.7 772.0L797.5 781.6H787.9Z" fill="#707070"/>
<path d="M182.2 988.6L186.4 992.9L182.2 997.1L177.9 992.9Z" fill="none" stroke="#454545" stroke-width="0.9"/>
<path d="M212.7 982.5L216.9 986.8L212.7 991.0L208.4 986.8Z" fill="none" stroke="#454545" stroke-width="0.9"/>
<path d="M243.2 975.9L247.5 980.1L243.2 984.4L239.0 980.1Z" fill="none" stroke="#454545" stroke-width="0.9"/>
<path d="M273.8 969.0L278.0 973.3L273.8 977.5L269.5 973.3Z" fill="none" stroke="#454545" stroke-width="0.9"/>
<path d="M304.3 960.2L308.5 964.5L304.3 968.7L300.0 964.5Z" fill="none" stroke="#454545" stroke-width="0.9"/>
<path d="M334.8 951.9L339.1 956.1L334.8 960.4L330.6 956.1Z" fill="none" stroke="#454545" stroke-width="0.9"/>
<path d="M365.3 943.3L369.6 947.5L365.3 951.8L361.1 947.5Z" fill="none" stroke="#454545" stroke-width="0.9"/>
<path d="M395.9 933.2L400.1 937.5L395.9 941.8L391.6 937.5Z" fill="none" stroke="#454545" stroke-width="0.9"/>
<path d="M426.4 922.5L430.6 926.7L426.4 931.0L422.1 926.7Z" fill="none" stroke="#454545" stroke-width="0.9"/>
<path d="M456.9 910.0L461.2 914.2L456.9 918.5L452.7 914.2Z" fill="none" stroke="#454545" stroke-width="0.9"/>
<path d="M487.5 897.4L491.7 901.6L487.5 905.9L483.2 901.6Z" fill="none" stroke="#454545" stroke-width="0.9"/>
<path d="M518.0 883.0L522.2 887.2L518.0 891.5L513.7 887.2Z" fill="none" stroke="#454545" stroke-width="0.9"/>
<path d="M548.5 867.8L552.8 872.0L548.5 876.3L544.3 872.0Z" fill="none" stroke="#454545" stroke-width="0.9"/>
<path d="M579.0 850.5L583.3 854.7L579.0 859.0L574.8 854.7Z" fill="none" stroke="#454545" stroke-width="0.9"/>
<path d="M609.6 832.5L613.8 836.7L609.6 841.0L605.3 836.7Z" fill="none" stroke="#454545" stroke-width="0.9"/>
<path d="M640.1 813.4L644.3 817.6L640.1 821.9L635.8 817.6Z" fill="none" stroke="#454545" stroke-width="0.9"/>
<path d="M670.6 790.8L674.9 795.0L670.6 799.3L666.4 795.0Z" fill="none" stroke="#454545" stroke-width="0.9"/>
<path d="M701.1 766.8L705.4 771.0L701.1 775.3L696.9 771.0Z" fill="none" stroke="#454545" stroke-width="0.9"/>
<path d="M731.7 738.6L735.9 742.8L731.7 747.1L727.4 742.8Z" fill="none" stroke="#454545" stroke-width="0.9"/>
<path d="M762.2 708.7L766.5 712.9L762.2 717.2L758.0 712.9Z" fill="none" stroke="#454545" stroke-width="0.9"/>
<path d="M792.7 675.6L797.0 679.9L792.7 684.1L788.5 679.9Z" fill="none" stroke="#454545" stroke-width="0.9"/>
<path d="M182.2 992.9L212.7 986.8L243.2 980.1L273.8 973.3L304.3 964.5L334.8 956.1L365.3 947.5L395.9 937.5L426.4 926.7L456.9 914.2L487.5 901.6L518.0 887.2L548.5 872.0L579.0 854.7L609.6 836.7L640.1 817.6L670.6 795.0L701.1 771.0L731.7 742.8L762.2 712.9L792.7 679.9" fill="none" stroke="#404040" stroke-width="1.0" stroke-linejoin="round"/>
<path d="M182.2 1005.9L212.7 999.3L243.2 993.1L273.8 985.5L304.3 977.2L334.8 968.6L365.3 959.8L395.9 949.8L426.4 940.0L456.9 927.5L487.5 915.0L518.0 900.7L548.5 885.8L579.0 868.9L609.6 850.6L640.1 829.4L670.6 804.3L701.1 774.7L731.7 744.8L762.2 714.9L792.7 689.7" fill="none" stroke="#8c8c8c" stroke-width="1.1" stroke-linejoin="round"/>
<path d="M178.1 1001.8L186.3 1010.0M178.1 1010.0L186.3 1001.8M182.2 1001.8V1010.0" stroke="#858585" stroke-width="1.1" fill="none"/>
<path d="M208.6 995.2L216.8 1003.4M208.6 1003.4L216.8 995.2M212.7 995.2V1003.4" stroke="#858585" stroke-width="1.1" fill="none"/>
<path d="M239.1 989.0L247.3 997.2M239.1 997.2L247.3 989.0M243.2 989.0V997.2" stroke="#858585" stroke-width="1.1" fill="none"/>
<path d="M269.6 981.4L277.9 989.6M269.6 989.6L277.9 981.4M273.8 981.4V989.6" stroke="#858585" stroke-width="1.1" fill="none"/>
<path d="M300.2 973.1L308.4 981.3M300.2 981.3L308.4 973.1M304.3 973.1V981.3" stroke="#858585" stroke-width="1.1" fill="none"/>
<path d="M330.7 964.5L338.9 972.7M330.7 972.7L338.9 964.5M334.8 964.5V972.7" stroke="#858585" stroke-width="1.1" fill="none"/>
<path d="M361.2 955.7L369.4 963.9M361.2 963.9L369.4 955.7M365.3 955.7V963.9" stroke="#858585" stroke-width="1.1" fill="none"/>
<path d="M391.8 945.7L400.0 953.9M391.8 953.9L400.0 945.7M395.9 945.7V953.9" stroke="#858585" stroke-width="1.1" fill="none"/>
<path d="M422.3 935.9L430.5 944.1M422.3 944.1L430.5 935.9M426.4 935.9V944.1" stroke="#858585" stroke-width="1.1" fill="none"/>
<path d="M452.8 923.4L461.0 931.6M452.8 931.6L461.0 923.4M456.9 923.4V931.6" stroke="#858585" stroke-width="1.1" fill="none"/>
<path d="M483.4 910.9L491.6 919.1M483.4 919.1L491.6 910.9M487.5 910.9V919.1" stroke="#858585" stroke-width="1.1" fill="none"/>
<path d="M513.9 896.6L522.1 904.8M513.9 904.8L522.1 896.6M518.0 896.6V904.8" stroke="#858585" stroke-width="1.1" fill="none"/>
<path d="M544.4 881.7L552.6 889.9M544.4 889.9L552.6 881.7M548.5 881.7V889.9" stroke="#858585" stroke-width="1.1" fill="none"/>
<path d="M574.9 864.8L583.1 873.0M574.9 873.0L583.1 864.8M579.0 864.8V873.0" stroke="#858585" stroke-width="1.1" fill="none"/>
<path d="M605.5 846.5L613.7 854.7M605.5 854.7L613.7 846.5M609.6 846.5V854.7" stroke="#858585" stroke-width="1.1" fill="none"/>
<path d="M636.0 825.3L644.2 833.5M636.0 833.5L644.2 825.3M640.1 825.3V833.5" stroke="#858585" stroke-width="1.1" fill="none"/>
<path d="M666.5 800.2L674.7 808.4M666.5 808.4L674.7 800.2M670.6 800.2V808.4" stroke="#858585" stroke-width="1.1" fill="none"/>
<path d="M697.0 770.6L705.2 778.8M697.0 778.8L705.2 770.6M701.1 770.6V778.8" stroke="#858585" stroke-width="1.1" fill="none"/>
<path d="M727.6 740.7L735.8 748.9M727.6 748.9L735.8 740.7M731.7 740.7V748.9" stroke="#858585" stroke-width="1.1" fill="none"/>
<path d="M758.1 710.8L766.3 719.0M758.1 719.0L766.3 710.8M762.2 710.8V719.0" stroke="#858585" stroke-width="1.1" fill="none"/>
<path d="M788.6 685.6L796.8 693.8M788.6 693.8L796.8 685.6M792.7 685.6V693.8" stroke="#858585" stroke-width="1.1" fill="none"/>
<path d="M182.2 1037.0L212.7 1035.3L243.2 1032.8L273.8 1030.4L304.3 1027.9L334.8 1026.5L365.3 1022.5L395.9 1020.6L426.4 1017.6L456.9 1015.2L487.5 1012.5L518.0 1010.3L548.5 1007.8L579.0 1006.6L609.6 1005.4L640.1 1003.9L670.6 1002.9L701.1 1001.7L731.7 1001.5L762.2 1001.0L792.7 1000.7" fill="none" stroke="#000000" stroke-width="3.7" stroke-linejoin="round" stroke-linecap="square" clip-path="url(#c166_1052)"/>





















<line x1="131.1" y1="1119.4" x2="172.39999999999998" y2="1119.4" stroke="#484848" stroke-width="1.7"/>
<circle cx="151.8" cy="1119.4" r="3.80" fill="#4d4d4d"/>
<text x="178.6" y="1125.0" style="font-family:'Liberation Serif',serif;font-size:16px" textLength="128" lengthAdjust="spacing">ALVARO VINDAS</text>
<line x1="354.7" y1="1119.4" x2="396.0" y2="1119.4" stroke="#ababab" stroke-width="1.8" stroke-dasharray="5,4"/>
<circle cx="375.4" cy="1119.4" r="4.60" fill="#a6a6a6"/>
<text x="402.8" y="1125.0" style="font-family:'Liberation Serif',serif;font-size:16px" textLength="154.2" lengthAdjust="spacing">GRUPO AMERICANA</text>
<line x1="579.2" y1="1119.4" x2="620.5" y2="1119.4" stroke="#787878" stroke-width="1.7"/>
<path d="M599.9 1114.2L604.6 1123.8H595.1Z" fill="#707070"/>
<text x="625.6" y="1125.0" style="font-family:'Liberation Serif',serif;font-size:16px" textLength="113.9" lengthAdjust="spacing">IAPB-57 FRACA</text>
<path d="M151.8 1139.1L156.0 1143.3L151.8 1147.6L147.5 1143.3Z" fill="none" stroke="#454545" stroke-width="0.9"/>
<line x1="131.1" y1="1143.3000000000002" x2="172.39999999999998" y2="1143.3000000000002" stroke="#404040" stroke-width="1.5"/>
<text x="178.6" y="1148.9" style="font-family:'Liberation Serif',serif;font-size:16px" textLength="102.3" lengthAdjust="spacing">LIGHT MEDIA</text>
<line x1="354.7" y1="1143.3000000000002" x2="396.0" y2="1143.3000000000002" stroke="#8c8c8c" stroke-width="1.6"/>
<path d="M371.2 1139.2L379.5 1147.4M371.2 1147.4L379.5 1139.2M375.4 1139.2V1147.4" stroke="#858585" stroke-width="1.1" fill="none"/>
<text x="402.8" y="1148.9" style="font-family:'Liberation Serif',serif;font-size:16px" textLength="88" lengthAdjust="spacing">Gomes RGPS</text>
<line x1="579.2" y1="1143.3000000000002" x2="620.5" y2="1143.3000000000002" stroke="#000000" stroke-width="3"/>

<text x="625.6" y="1148.9" style="font-family:'Liberation Serif',serif;font-size:16px" textLength="135" lengthAdjust="spacing">RPPS-CE (ajustada)</text>
<line x1="918.8" y1="993.5" x2="1560.4" y2="993.5" stroke="#c2c2c2" stroke-width="1" stroke-dasharray="1,1.5"/>
<line x1="918.8" y1="934.5" x2="1560.4" y2="934.5" stroke="#c2c2c2" stroke-width="1" stroke-dasharray="1,1.5"/>
<line x1="918.8" y1="874.5" x2="1560.4" y2="874.5" stroke="#c2c2c2" stroke-width="1" stroke-dasharray="1,1.5"/>
<line x1="918.8" y1="815.5" x2="1560.4" y2="815.5" stroke="#c2c2c2" stroke-width="1" stroke-dasharray="1,1.5"/>
<line x1="918.8" y1="755.5" x2="1560.4" y2="755.5" stroke="#c2c2c2" stroke-width="1" stroke-dasharray="1,1.5"/>
<line x1="918.8" y1="696.5" x2="1560.4" y2="696.5" stroke="#c2c2c2" stroke-width="1" stroke-dasharray="1,1.5"/>
<line x1="918.8" y1="636.5" x2="1560.4" y2="636.5" stroke="#c2c2c2" stroke-width="1" stroke-dasharray="1,1.5"/>
<line x1="912.3" y1="1052.90" x2="917.3" y2="1052.90" stroke="#a8a8a8" stroke-width="2.0"/>
<text x="901.9" y="1057.60" text-anchor="end" style="font-family:'Liberation Serif',serif;font-size:16px">0,000</text>
<line x1="912.3" y1="993.46" x2="917.3" y2="993.46" stroke="#a8a8a8" stroke-width="1.8"/>
<text x="901.9" y="998.34" text-anchor="end" style="font-family:'Liberation Serif',serif;font-size:16px">0,010</text>
<line x1="912.3" y1="934.01" x2="917.3" y2="934.01" stroke="#a8a8a8" stroke-width="1.8"/>
<text x="901.9" y="939.09" text-anchor="end" style="font-family:'Liberation Serif',serif;font-size:16px">0,020</text>
<line x1="912.3" y1="874.57" x2="917.3" y2="874.57" stroke="#a8a8a8" stroke-width="1.8"/>
<text x="901.9" y="879.83" text-anchor="end" style="font-family:'Liberation Serif',serif;font-size:16px">0,030</text>
<line x1="912.3" y1="815.13" x2="917.3" y2="815.13" stroke="#a8a8a8" stroke-width="1.8"/>
<text x="901.9" y="820.57" text-anchor="end" style="font-family:'Liberation Serif',serif;font-size:16px">0,040</text>
<line x1="912.3" y1="755.69" x2="917.3" y2="755.69" stroke="#a8a8a8" stroke-width="1.8"/>
<text x="901.9" y="761.31" text-anchor="end" style="font-family:'Liberation Serif',serif;font-size:16px">0,050</text>
<line x1="912.3" y1="696.24" x2="917.3" y2="696.24" stroke="#a8a8a8" stroke-width="1.8"/>
<text x="901.9" y="702.06" text-anchor="end" style="font-family:'Liberation Serif',serif;font-size:16px">0,060</text>
<line x1="912.3" y1="636.80" x2="917.3" y2="636.80" stroke="#a8a8a8" stroke-width="1.8"/>
<text x="901.9" y="642.80" text-anchor="end" style="font-family:'Liberation Serif',serif;font-size:16px">0,070</text>
<line x1="960.17" y1="1052.9" x2="960.17" y2="1058.2" stroke="#a4a4a4" stroke-width="1.3"/>
<line x1="1003.05" y1="1052.9" x2="1003.05" y2="1058.2" stroke="#a4a4a4" stroke-width="1.3"/>
<line x1="1045.92" y1="1052.9" x2="1045.92" y2="1058.2" stroke="#a4a4a4" stroke-width="1.3"/>
<line x1="1088.79" y1="1052.9" x2="1088.79" y2="1058.2" stroke="#a4a4a4" stroke-width="1.3"/>
<line x1="1131.67" y1="1052.9" x2="1131.67" y2="1058.2" stroke="#a4a4a4" stroke-width="1.3"/>
<line x1="1174.54" y1="1052.9" x2="1174.54" y2="1058.2" stroke="#a4a4a4" stroke-width="1.3"/>
<line x1="1217.41" y1="1052.9" x2="1217.41" y2="1058.2" stroke="#a4a4a4" stroke-width="1.3"/>
<line x1="1260.29" y1="1052.9" x2="1260.29" y2="1058.2" stroke="#a4a4a4" stroke-width="1.3"/>
<line x1="1303.16" y1="1052.9" x2="1303.16" y2="1058.2" stroke="#a4a4a4" stroke-width="1.3"/>
<line x1="1346.03" y1="1052.9" x2="1346.03" y2="1058.2" stroke="#a4a4a4" stroke-width="1.3"/>
<line x1="1388.91" y1="1052.9" x2="1388.91" y2="1058.2" stroke="#a4a4a4" stroke-width="1.3"/>
<line x1="1431.78" y1="1052.9" x2="1431.78" y2="1058.2" stroke="#a4a4a4" stroke-width="1.3"/>
<line x1="1474.65" y1="1052.9" x2="1474.65" y2="1058.2" stroke="#a4a4a4" stroke-width="1.3"/>
<line x1="1517.53" y1="1052.9" x2="1517.53" y2="1058.2" stroke="#a4a4a4" stroke-width="1.3"/>
<line x1="1560.40" y1="1052.9" x2="1560.40" y2="1058.2" stroke="#a4a4a4" stroke-width="1.3"/>
<line x1="912.3" y1="1052.9" x2="1561.0" y2="1052.9" stroke="#a2a2a2" stroke-width="2.0"/>
<line x1="917.3" y1="635.8" x2="917.3" y2="1058.2" stroke="#8a8a8a" stroke-width="1.2"/>
<text transform="translate(945.24,1069.9) rotate(-90)" text-anchor="end" style="font-family:'Liberation Serif',serif;font-size:16px">61</text>
<text transform="translate(988.11,1069.9) rotate(-90)" text-anchor="end" style="font-family:'Liberation Serif',serif;font-size:16px">62</text>
<text transform="translate(1030.98,1069.9) rotate(-90)" text-anchor="end" style="font-family:'Liberation Serif',serif;font-size:16px">63</text>
<text transform="translate(1073.86,1069.9) rotate(-90)" text-anchor="end" style="font-family:'Liberation Serif',serif;font-size:16px">64</text>
<text transform="translate(1116.73,1069.9) rotate(-90)" text-anchor="end" style="font-family:'Liberation Serif',serif;font-size:16px">65</text>
<text transform="translate(1159.60,1069.9) rotate(-90)" text-anchor="end" style="font-family:'Liberation Serif',serif;font-size:16px">66</text>
<text transform="translate(1202.48,1069.9) rotate(-90)" text-anchor="end" style="font-family:'Liberation Serif',serif;font-size:16px">67</text>
<text transform="translate(1245.35,1069.9) rotate(-90)" text-anchor="end" style="font-family:'Liberation Serif',serif;font-size:16px">68</text>
<text transform="translate(1288.22,1069.9) rotate(-90)" text-anchor="end" style="font-family:'Liberation Serif',serif;font-size:16px">69</text>
<text transform="translate(1331.10,1069.9) rotate(-90)" text-anchor="end" style="font-family:'Liberation Serif',serif;font-size:16px">70</text>
<text transform="translate(1373.97,1069.9) rotate(-90)" text-anchor="end" style="font-family:'Liberation Serif',serif;font-size:16px">71</text>
<text transform="translate(1416.84,1069.9) rotate(-90)" text-anchor="end" style="font-family:'Liberation Serif',serif;font-size:16px">72</text>
<text transform="translate(1459.72,1069.9) rotate(-90)" text-anchor="end" style="font-family:'Liberation Serif',serif;font-size:16px">73</text>
<text transform="translate(1502.59,1069.9) rotate(-90)" text-anchor="end" style="font-family:'Liberation Serif',serif;font-size:16px">74</text>
<text transform="translate(1545.46,1069.9) rotate(-90)" text-anchor="end" style="font-family:'Liberation Serif',serif;font-size:16px">75</text>
<text transform="translate(847,846) rotate(-90)" text-anchor="middle" style="font-family:'Liberation Serif',serif;font-size:16px" textLength="249" lengthAdjust="spacing">Probabilidade de entrada em invalidez</text>
<clipPath id="c917_1052"><rect x="917.3" y="626.8" width="643.1000000000001" height="425.70"/></clipPath>
<path d="M938.7 1016.2L981.6 1011.0L1024.5 1005.9L1067.4 999.8L1110.2 992.4L1153.1 984.3L1196.0 975.2L1238.8 964.2L1281.7 953.4L1324.6 939.7L1367.5 923.3L1410.3 906.6L1453.2 886.3L1496.1 863.7L1539.0 837.5" fill="none" stroke="#484848" stroke-width="1.2" stroke-linejoin="round"/>
<circle cx="938.7" cy="1016.2" r="3.80" fill="#4d4d4d"/>
<circle cx="981.6" cy="1011.0" r="3.80" fill="#4d4d4d"/>
<circle cx="1024.5" cy="1005.9" r="3.80" fill="#4d4d4d"/>
<circle cx="1067.4" cy="999.8" r="3.80" fill="#4d4d4d"/>
<circle cx="1110.2" cy="992.4" r="3.80" fill="#4d4d4d"/>
<circle cx="1153.1" cy="984.3" r="3.80" fill="#4d4d4d"/>
<circle cx="1196.0" cy="975.2" r="3.80" fill="#4d4d4d"/>
<circle cx="1238.8" cy="964.2" r="3.80" fill="#4d4d4d"/>
<circle cx="1281.7" cy="953.4" r="3.80" fill="#4d4d4d"/>
<circle cx="1324.6" cy="939.7" r="3.80" fill="#4d4d4d"/>
<circle cx="1367.5" cy="923.3" r="3.80" fill="#4d4d4d"/>
<circle cx="1410.3" cy="906.6" r="3.80" fill="#4d4d4d"/>
<circle cx="1453.2" cy="886.3" r="3.80" fill="#4d4d4d"/>
<circle cx="1496.1" cy="863.7" r="3.80" fill="#4d4d4d"/>
<circle cx="1539.0" cy="837.5" r="3.80" fill="#4d4d4d"/>
<path d="M938.7 1031.6L981.6 1030.4L1024.5 1027.9L1067.4 1024.8L1110.2 1021.1L1153.1 1015.7L1196.0 1010.0L1238.8 1001.0L1281.7 990.0L1324.6 977.0L1367.5 959.6L1410.3 938.5L1453.2 911.5L1496.1 879.7L1539.0 844.1" fill="none" stroke="#ababab" stroke-width="1.3" stroke-dasharray="5,4" stroke-linejoin="round"/>
<circle cx="938.7" cy="1031.6" r="4.60" fill="#a6a6a6"/>
<circle cx="981.6" cy="1030.4" r="4.60" fill="#a6a6a6"/>
<circle cx="1024.5" cy="1027.9" r="4.60" fill="#a6a6a6"/>
<circle cx="1067.4" cy="1024.8" r="4.60" fill="#a6a6a6"/>
<circle cx="1110.2" cy="1021.1" r="4.60" fill="#a6a6a6"/>
<circle cx="1153.1" cy="1015.7" r="4.60" fill="#a6a6a6"/>
<circle cx="1196.0" cy="1010.0" r="4.60" fill="#a6a6a6"/>
<circle cx="1238.8" cy="1001.0" r="4.60" fill="#a6a6a6"/>
<circle cx="1281.7" cy="990.0" r="4.60" fill="#a6a6a6"/>
<circle cx="1324.6" cy="977.0" r="4.60" fill="#a6a6a6"/>
<circle cx="1367.5" cy="959.6" r="4.60" fill="#a6a6a6"/>
<circle cx="1410.3" cy="938.5" r="4.60" fill="#a6a6a6"/>
<circle cx="1453.2" cy="911.5" r="4.60" fill="#a6a6a6"/>
<circle cx="1496.1" cy="879.7" r="4.60" fill="#a6a6a6"/>
<circle cx="1539.0" cy="844.1" r="4.60" fill="#a6a6a6"/>
<path d="M938.7 974.8L981.6 966.7L1024.5 956.9L1067.4 947.1L1110.2 936.0L1153.1 920.6L1196.0 905.9L1238.8 888.5L1281.7 869.1L1324.6 847.2L1367.5 823.0L1410.3 795.8L1453.2 765.6L1496.1 731.3L1539.0 694.1" fill="none" stroke="#787878" stroke-width="1.2" stroke-linejoin="round"/>
<path d="M938.7 969.6L943.5 979.2H933.9Z" fill="#707070"/>
<path d="M981.6 961.5L986.4 971.1H976.8Z" fill="#707070"/>
<path d="M1024.5 951.7L1029.3 961.3H1019.7Z" fill="#707070"/>
<path d="M1067.4 941.9L1072.2 951.5H1062.6Z" fill="#707070"/>
<path d="M1110.2 930.8L1115.0 940.4H1105.4Z" fill="#707070"/>
<path d="M1153.1 915.4L1157.9 925.0H1148.3Z" fill="#707070"/>
<path d="M1196.0 900.7L1200.8 910.3H1191.2Z" fill="#707070"/>
<path d="M1238.8 883.3L1243.6 892.9H1234.0Z" fill="#707070"/>
<path d="M1281.7 863.9L1286.5 873.5H1276.9Z" fill="#707070"/>
<path d="M1324.6 842.0L1329.4 851.6H1319.8Z" fill="#707070"/>
<path d="M1367.5 817.8L1372.3 827.4H1362.7Z" fill="#707070"/>
<path d="M1410.3 790.6L1415.1 800.2H1405.5Z" fill="#707070"/>
<path d="M1453.2 760.4L1458.0 770.0H1448.4Z" fill="#707070"/>
<path d="M1496.1 726.1L1500.9 735.7H1491.3Z" fill="#707070"/>
<path d="M1539.0 688.9L1543.8 698.5H1534.2Z" fill="#707070"/>
<path d="M938.7 942.3L943.0 946.6L938.7 950.8L934.5 946.6Z" fill="none" stroke="#454545" stroke-width="0.9"/>
<path d="M981.6 932.5L985.9 936.8L981.6 941.0L977.4 936.8Z" fill="none" stroke="#454545" stroke-width="0.9"/>
<path d="M1024.5 920.8L1028.7 925.0L1024.5 929.2L1020.2 925.0Z" fill="none" stroke="#454545" stroke-width="0.9"/>
<path d="M1067.4 907.8L1071.6 912.0L1067.4 916.3L1063.1 912.0Z" fill="none" stroke="#454545" stroke-width="0.9"/>
<path d="M1110.2 892.6L1114.5 896.8L1110.2 901.1L1106.0 896.8Z" fill="none" stroke="#454545" stroke-width="0.9"/>
<path d="M1153.1 873.7L1157.4 877.9L1153.1 882.2L1148.9 877.9Z" fill="none" stroke="#454545" stroke-width="0.9"/>
<path d="M1196.0 946.5L1200.2 950.7L1196.0 955.0L1191.7 950.7Z" fill="none" stroke="#454545" stroke-width="0.9"/>
<path d="M1238.8 930.6L1243.1 934.8L1238.8 939.1L1234.6 934.8Z" fill="none" stroke="#454545" stroke-width="0.9"/>
<path d="M1281.7 911.4L1286.0 915.7L1281.7 919.9L1277.5 915.7Z" fill="none" stroke="#454545" stroke-width="0.9"/>
<path d="M1324.6 890.6L1328.8 894.9L1324.6 899.1L1320.3 894.9Z" fill="none" stroke="#454545" stroke-width="0.9"/>
<path d="M938.7 946.6L981.6 936.8L1024.5 925.0L1067.4 912.0L1110.2 896.8L1153.1 877.9L1196.0 950.7L1238.8 934.8L1281.7 915.7L1324.6 894.9" fill="none" stroke="#404040" stroke-width="1.0" stroke-linejoin="round"/>
<path d="M938.7 952.5L981.6 945.1L1024.5 937.3L1067.4 933.1L1110.2 934.3L1153.1 955.6L1196.0 969.6L1238.8 985.5L1281.7 999.0L1324.6 1002.7" fill="none" stroke="#8c8c8c" stroke-width="1.1" stroke-linejoin="round"/>
<path d="M934.6 948.4L942.8 956.6M934.6 956.6L942.8 948.4M938.7 948.4V956.6" stroke="#858585" stroke-width="1.1" fill="none"/>
<path d="M977.5 941.0L985.7 949.2M977.5 949.2L985.7 941.0M981.6 941.0V949.2" stroke="#858585" stroke-width="1.1" fill="none"/>
<path d="M1020.4 933.2L1028.6 941.4M1020.4 941.4L1028.6 933.2M1024.5 933.2V941.4" stroke="#858585" stroke-width="1.1" fill="none"/>
<path d="M1063.3 929.0L1071.5 937.2M1063.3 937.2L1071.5 929.0M1067.4 929.0V937.2" stroke="#858585" stroke-width="1.1" fill="none"/>
<path d="M1106.1 930.2L1114.3 938.4M1106.1 938.4L1114.3 930.2M1110.2 930.2V938.4" stroke="#858585" stroke-width="1.1" fill="none"/>
<path d="M1149.0 951.5L1157.2 959.7M1149.0 959.7L1157.2 951.5M1153.1 951.5V959.7" stroke="#858585" stroke-width="1.1" fill="none"/>
<path d="M1191.9 965.5L1200.1 973.7M1191.9 973.7L1200.1 965.5M1196.0 965.5V973.7" stroke="#858585" stroke-width="1.1" fill="none"/>
<path d="M1234.8 981.4L1242.9 989.6M1234.8 989.6L1242.9 981.4M1238.8 981.4V989.6" stroke="#858585" stroke-width="1.1" fill="none"/>
<path d="M1277.6 994.9L1285.8 1003.1M1277.6 1003.1L1285.8 994.9M1281.7 994.9V1003.1" stroke="#858585" stroke-width="1.1" fill="none"/>
<path d="M1320.5 998.6L1328.7 1006.8M1320.5 1006.8L1328.7 998.6M1324.6 998.6V1006.8" stroke="#858585" stroke-width="1.1" fill="none"/>
<path d="M938.7 1038.5L981.6 1038.5L1024.5 1038.5L1067.4 1038.5L1110.2 1038.5L1153.1 1038.5L1196.0 1039.5L1238.8 1039.7L1281.7 1041.4L1324.6 1041.9L1367.5 1043.1L1410.3 1043.9L1453.2 1044.6L1496.1 1045.1L1539.0 1046.6" fill="none" stroke="#000000" stroke-width="3.7" stroke-linejoin="round" stroke-linecap="square" clip-path="url(#c917_1052)"/>















<line x1="881.1" y1="1119.4" x2="922.4" y2="1119.4" stroke="#484848" stroke-width="1.7"/>
<circle cx="901.8" cy="1119.4" r="3.80" fill="#4d4d4d"/>
<text x="928.6" y="1125.0" style="font-family:'Liberation Serif',serif;font-size:16px" textLength="129" lengthAdjust="spacing">ALVARO VINDAS</text>
<line x1="1105.8" y1="1119.4" x2="1147.1" y2="1119.4" stroke="#ababab" stroke-width="1.8" stroke-dasharray="5,4"/>
<circle cx="1126.4" cy="1119.4" r="4.60" fill="#a6a6a6"/>
<text x="1153.2" y="1125.0" style="font-family:'Liberation Serif',serif;font-size:16px" textLength="154.9" lengthAdjust="spacing">GRUPO AMERICANA</text>
<line x1="1330.3" y1="1119.4" x2="1371.6" y2="1119.4" stroke="#787878" stroke-width="1.7"/>
<path d="M1350.9 1114.2L1355.7 1123.8H1346.1Z" fill="#707070"/>
<text x="1377.7" y="1125.0" style="font-family:'Liberation Serif',serif;font-size:16px" textLength="113" lengthAdjust="spacing">IAPB-57 FRACA</text>
<path d="M901.8 1139.1L906.0 1143.3L901.8 1147.6L897.5 1143.3Z" fill="none" stroke="#454545" stroke-width="0.9"/>
<line x1="881.1" y1="1143.3000000000002" x2="922.4" y2="1143.3000000000002" stroke="#404040" stroke-width="1.5"/>
<text x="928.6" y="1148.9" style="font-family:'Liberation Serif',serif;font-size:16px" textLength="102.8" lengthAdjust="spacing">LIGHT MEDIA</text>
<line x1="1105.8" y1="1143.3000000000002" x2="1147.1" y2="1143.3000000000002" stroke="#8c8c8c" stroke-width="1.6"/>
<path d="M1122.3 1139.2L1130.5 1147.4M1122.3 1147.4L1130.5 1139.2M1126.4 1139.2V1147.4" stroke="#858585" stroke-width="1.1" fill="none"/>
<text x="1153.2" y="1148.9" style="font-family:'Liberation Serif',serif;font-size:16px" textLength="88.5" lengthAdjust="spacing">Gomes RGPS</text>
<line x1="1330.3" y1="1143.3000000000002" x2="1371.6" y2="1143.3000000000002" stroke="#000000" stroke-width="3"/>

<text x="1377.7" y="1148.9" style="font-family:'Liberation Serif',serif;font-size:16px" textLength="135.5" lengthAdjust="spacing">RPPS-CE (ajustada)</text>
</svg>
</body></html>
